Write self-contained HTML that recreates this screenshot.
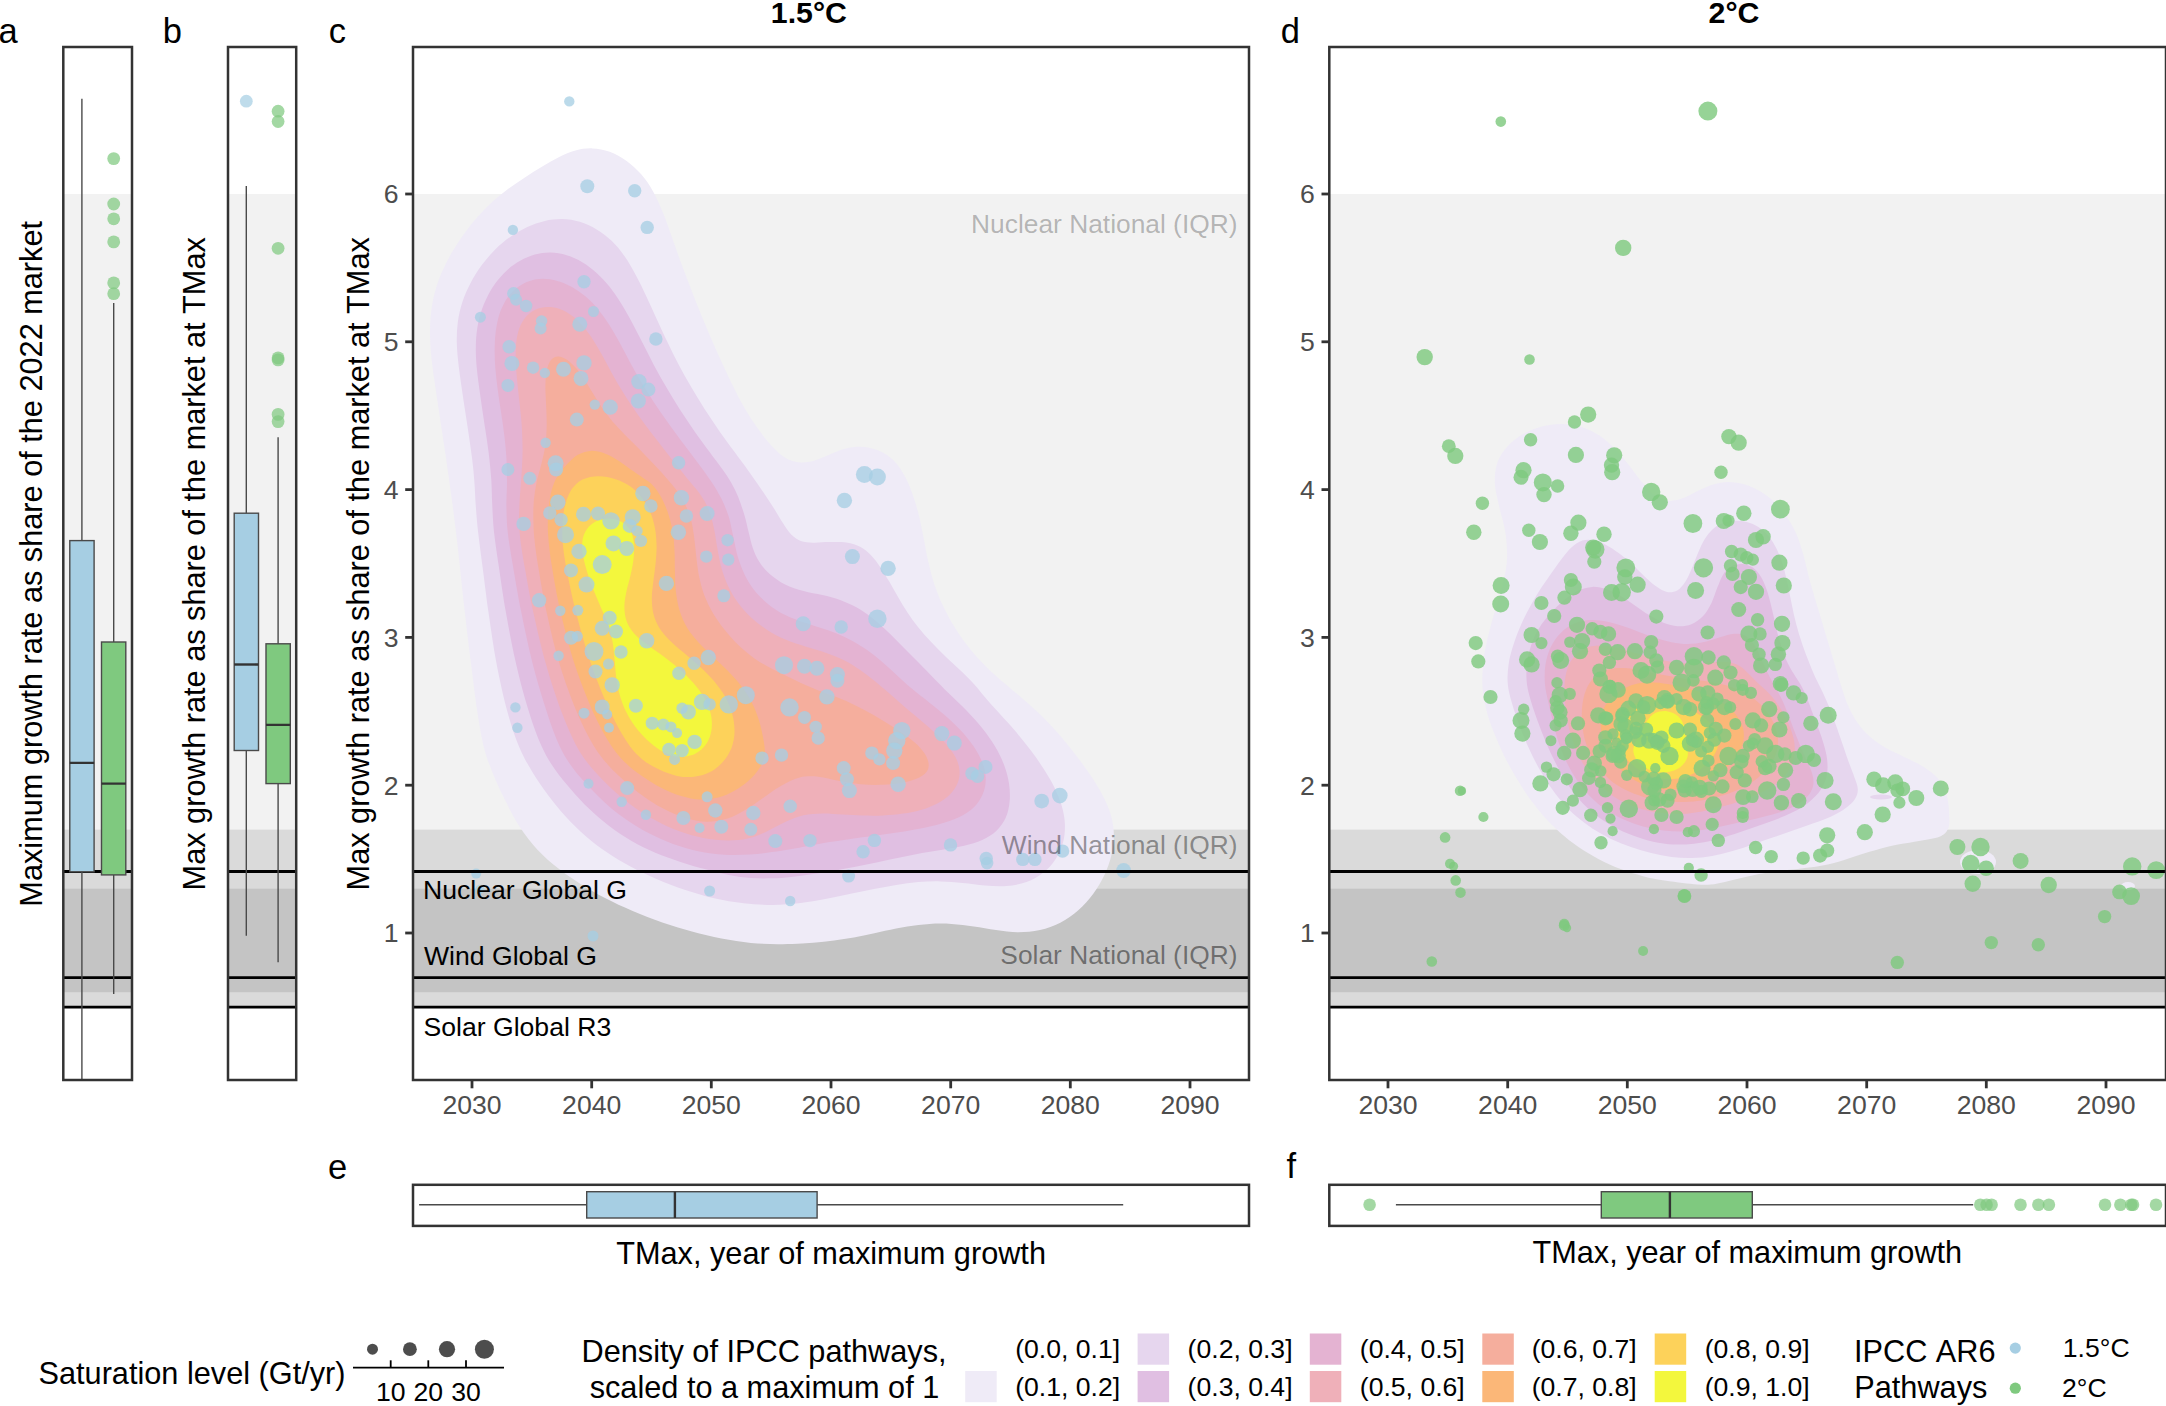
<!DOCTYPE html><html><head><meta charset="utf-8"><title>Figure</title><style>html,body{margin:0;padding:0;background:#fff}svg{display:block}text{font-family:"Liberation Sans",Arial,Helvetica,sans-serif;font-kerning:none}</style></head><body>
<svg width="2166" height="1406" viewBox="0 0 2166 1406">
<rect width="2166" height="1406" fill="#fff"/>
<defs>
<clipPath id="cpa"><rect x="63.3" y="47.0" width="68.7" height="1033.0"/></clipPath>
<clipPath id="cpb"><rect x="228.0" y="47.0" width="68.2" height="1033.0"/></clipPath>
<clipPath id="cpc"><rect x="413.0" y="47.0" width="836.0" height="1033.0"/></clipPath>
<clipPath id="cpd"><rect x="1329.3" y="47.0" width="836.7" height="1033.0"/></clipPath>
</defs>
<rect x="63.3" y="194.0" width="68.7" height="635.5" fill="#f2f2f2"/>
<rect x="63.3" y="829.5" width="68.7" height="177.4" fill="#dadada"/>
<rect x="63.3" y="888.7" width="68.7" height="103.5" fill="#c4c4c4"/>
<line x1="63.3" x2="132.0" y1="871.5" y2="871.5" stroke="#000" stroke-width="2.8"/>
<line x1="63.3" x2="132.0" y1="977.6" y2="977.6" stroke="#000" stroke-width="2.8"/>
<line x1="63.3" x2="132.0" y1="1007.2" y2="1007.2" stroke="#000" stroke-width="2.8"/>
<rect x="228.0" y="194.0" width="68.2" height="635.5" fill="#f2f2f2"/>
<rect x="228.0" y="829.5" width="68.2" height="177.4" fill="#dadada"/>
<rect x="228.0" y="888.7" width="68.2" height="103.5" fill="#c4c4c4"/>
<line x1="228.0" x2="296.2" y1="871.5" y2="871.5" stroke="#000" stroke-width="2.8"/>
<line x1="228.0" x2="296.2" y1="977.6" y2="977.6" stroke="#000" stroke-width="2.8"/>
<line x1="228.0" x2="296.2" y1="1007.2" y2="1007.2" stroke="#000" stroke-width="2.8"/>
<g clip-path="url(#cpa)">
<line x1="81.9" x2="81.9" y1="98.8" y2="540.6" stroke="#4a4a4a" stroke-width="1.4"/>
<line x1="81.9" x2="81.9" y1="871.8" y2="1200.0" stroke="#4a4a4a" stroke-width="1.4"/>
<rect x="69.8" y="540.6" width="24.3" height="331.2" fill="#a6cee3" stroke="#4a4a4a" stroke-width="1.4"/>
<line x1="69.8" x2="94.1" y1="762.9" y2="762.9" stroke="#333" stroke-width="2.4"/>
<line x1="113.7" x2="113.7" y1="302.9" y2="642.0" stroke="#4a4a4a" stroke-width="1.4"/>
<line x1="113.7" x2="113.7" y1="874.9" y2="994.0" stroke="#4a4a4a" stroke-width="1.4"/>
<rect x="101.5" y="642.0" width="24.3" height="232.9" fill="#7fc97f" stroke="#4a4a4a" stroke-width="1.4"/>
<line x1="101.5" x2="125.9" y1="783.6" y2="783.6" stroke="#333" stroke-width="2.4"/>
<circle cx="113.7" cy="158.6" r="6.4" fill="#7fc97f" fill-opacity="0.72"/>
<circle cx="113.7" cy="204.0" r="6.4" fill="#7fc97f" fill-opacity="0.72"/>
<circle cx="113.7" cy="218.8" r="6.4" fill="#7fc97f" fill-opacity="0.72"/>
<circle cx="113.7" cy="241.9" r="6.4" fill="#7fc97f" fill-opacity="0.72"/>
<circle cx="113.7" cy="282.9" r="6.4" fill="#7fc97f" fill-opacity="0.72"/>
<circle cx="113.7" cy="293.7" r="6.4" fill="#7fc97f" fill-opacity="0.72"/>
</g>
<g clip-path="url(#cpb)">
<line x1="246.3" x2="246.3" y1="186.1" y2="513.2" stroke="#4a4a4a" stroke-width="1.4"/>
<line x1="246.3" x2="246.3" y1="750.5" y2="935.8" stroke="#4a4a4a" stroke-width="1.4"/>
<rect x="234.2" y="513.2" width="24.3" height="237.3" fill="#a6cee3" stroke="#4a4a4a" stroke-width="1.4"/>
<line x1="234.2" x2="258.4" y1="664.5" y2="664.5" stroke="#333" stroke-width="2.4"/>
<line x1="278.1" x2="278.1" y1="437.2" y2="643.8" stroke="#4a4a4a" stroke-width="1.4"/>
<line x1="278.1" x2="278.1" y1="783.6" y2="962.2" stroke="#4a4a4a" stroke-width="1.4"/>
<rect x="266.0" y="643.8" width="24.3" height="139.8" fill="#7fc97f" stroke="#4a4a4a" stroke-width="1.4"/>
<line x1="266.0" x2="290.2" y1="724.9" y2="724.9" stroke="#333" stroke-width="2.4"/>
<circle cx="246.3" cy="101.2" r="6.4" fill="#a6cee3" fill-opacity="0.72"/>
<circle cx="278.1" cy="111.2" r="6.4" fill="#7fc97f" fill-opacity="0.72"/>
<circle cx="278.1" cy="121.5" r="6.4" fill="#7fc97f" fill-opacity="0.72"/>
<circle cx="278.1" cy="248.3" r="6.4" fill="#7fc97f" fill-opacity="0.72"/>
<circle cx="278.1" cy="357.9" r="6.4" fill="#7fc97f" fill-opacity="0.72"/>
<circle cx="278.1" cy="359.9" r="6.4" fill="#7fc97f" fill-opacity="0.72"/>
<circle cx="278.1" cy="414.4" r="6.4" fill="#7fc97f" fill-opacity="0.72"/>
<circle cx="278.1" cy="421.6" r="6.4" fill="#7fc97f" fill-opacity="0.72"/>
</g>
<rect x="63.3" y="47.0" width="68.7" height="1033.0" fill="none" stroke="#333" stroke-width="2.5"/>
<rect x="228.0" y="47.0" width="68.2" height="1033.0" fill="none" stroke="#333" stroke-width="2.5"/>
<rect x="413.0" y="194.0" width="836.0" height="635.5" fill="#f2f2f2"/>
<rect x="413.0" y="829.5" width="836.0" height="177.4" fill="#dadada"/>
<rect x="413.0" y="888.7" width="836.0" height="103.5" fill="#c4c4c4"/>
<g clip-path="url(#cpc)">
<path d="M592.3,148.4C598.0,148.6 604.0,149.7 609.7,151.8C615.4,153.8 621.3,157.2 626.6,160.9C631.8,164.7 636.8,169.2 641.2,174.3C645.7,179.4 649.5,185.0 653.1,191.5C656.7,197.9 660.0,205.5 663.1,213.0C666.2,220.5 669.0,228.9 671.8,236.7C674.6,244.5 677.2,252.2 679.9,259.8C682.7,267.4 685.5,274.7 688.4,282.3C691.3,289.9 694.3,297.5 697.4,305.4C700.6,313.3 703.9,321.5 707.4,329.7C710.9,337.9 714.6,346.4 718.3,354.7C722.1,363.0 725.9,371.6 729.9,379.7C733.8,387.8 737.8,395.9 742.0,403.4C746.2,410.9 750.6,418.0 755.1,424.6C759.6,431.2 764.4,437.6 768.9,442.7C773.4,447.8 777.6,452.3 782.0,455.5C786.4,458.6 790.5,460.7 795.1,461.7C799.7,462.8 804.6,462.6 809.5,461.7C814.4,460.9 819.4,458.6 824.4,456.7C829.4,454.9 834.4,452.1 839.4,450.5C844.4,448.9 849.4,447.4 854.4,447.0C859.4,446.5 864.5,446.7 869.4,447.8C874.3,448.8 879.2,450.6 883.7,453.1C888.2,455.7 892.4,458.9 896.2,463.2C900.0,467.6 903.4,473.2 906.5,479.4C909.6,485.5 912.3,493.2 914.5,499.9C916.8,506.7 918.4,513.3 920.0,519.9C921.5,526.5 922.6,532.7 924.0,539.7C925.3,546.7 926.5,554.4 928.3,561.8C930.0,569.2 931.9,576.9 934.4,584.4C937.0,591.9 939.8,599.2 943.4,606.6C946.9,614.0 951.0,621.5 955.6,628.8C960.2,636.1 965.6,643.6 971.1,650.2C976.6,656.9 982.7,663.2 988.4,668.9C994.1,674.5 999.8,679.1 1005.4,684.0C1011.0,689.0 1016.3,693.2 1022.1,698.3C1027.9,703.4 1034.1,708.7 1040.2,714.5C1046.2,720.4 1052.6,727.1 1058.4,733.6C1064.2,740.2 1069.8,747.2 1075.0,754.0C1080.3,760.8 1085.3,767.5 1089.8,774.3C1094.4,781.1 1098.8,787.9 1102.3,794.7C1105.9,801.5 1109.0,808.2 1110.9,815.0C1112.8,821.8 1113.8,828.5 1113.9,835.3C1114.0,842.1 1113.0,849.0 1111.3,855.7C1109.7,862.4 1107.2,869.2 1104.2,875.5C1101.1,881.9 1097.4,888.3 1093.1,894.0C1088.8,899.8 1083.8,905.5 1078.3,910.2C1072.9,915.0 1066.7,919.4 1060.3,922.7C1053.9,926.0 1047.0,928.5 1040.0,930.1C1032.9,931.7 1025.5,932.2 1018.2,932.2C1010.9,932.2 1003.4,931.1 996.0,930.1C988.6,929.2 981.2,927.5 973.8,926.5C966.4,925.4 959.0,924.3 951.6,923.9C944.2,923.5 936.9,923.5 929.5,923.9C922.1,924.3 914.7,925.3 907.3,926.4C899.9,927.6 892.3,929.3 885.1,930.8C877.9,932.3 870.7,934.1 863.8,935.5C857.0,936.9 850.7,938.1 844.0,939.1C837.4,940.2 830.8,941.0 823.8,941.8C816.8,942.5 809.6,943.2 802.0,943.6C794.3,944.0 786.6,944.4 778.0,944.2C769.5,944.1 760.2,943.9 750.8,942.9C741.4,942.0 731.3,940.5 721.5,938.6C711.7,936.8 701.8,934.3 691.9,931.6C682.0,928.9 672.2,925.8 662.3,922.4C652.4,918.9 642.3,915.0 632.7,910.9C623.1,906.8 613.6,902.4 605.0,897.9C596.4,893.5 588.7,889.1 581.0,884.2C573.3,879.4 566.0,874.4 558.8,868.7C551.6,863.0 544.2,856.9 537.7,849.9C531.2,842.8 525.0,834.9 519.5,826.5C514.1,818.2 509.2,808.4 504.8,799.5C500.3,790.7 496.2,782.1 492.8,773.3C489.3,764.5 486.4,757.2 483.8,746.9C481.2,736.5 479.4,724.9 477.2,711.0C475.1,697.2 473.1,680.1 471.0,663.6C468.9,647.0 466.6,628.1 464.8,611.8C462.9,595.5 461.2,579.0 459.8,565.7C458.3,552.4 457.2,541.9 456.0,532.0C454.8,522.0 453.8,514.3 452.7,506.0C451.6,497.6 450.5,489.8 449.4,481.9C448.3,474.0 447.3,466.5 446.1,458.6C444.9,450.8 443.7,442.8 442.5,434.6C441.2,426.4 440.0,417.9 438.7,409.6C437.5,401.3 436.1,392.8 435.0,384.6C433.8,376.4 432.5,368.2 431.7,360.3C430.9,352.4 430.2,344.8 430.1,337.2C429.9,329.6 430.0,322.1 430.8,314.7C431.6,307.3 432.8,300.0 434.7,292.9C436.5,285.8 439.0,279.0 441.8,272.3C444.7,265.6 448.1,259.0 451.8,252.6C455.5,246.2 459.7,239.9 464.0,233.9C468.3,227.9 473.0,222.1 477.7,216.8C482.5,211.4 487.3,206.4 492.4,201.8C497.4,197.2 502.6,193.1 508.0,189.0C513.4,184.9 519.2,181.2 524.9,177.4C530.6,173.7 536.6,169.9 542.3,166.5C548.0,163.1 553.7,159.7 559.2,157.0C564.7,154.4 569.9,152.0 575.4,150.6C580.9,149.1 586.6,148.2 592.3,148.4Z" fill="#efebf7"/>
<path d="M562.3,219.0C568.1,219.2 574.1,220.1 579.8,221.8C585.5,223.5 591.3,226.2 596.6,229.4C602.0,232.5 607.0,236.3 611.6,240.8C616.2,245.2 620.4,250.4 624.4,256.1C628.4,261.7 632.0,268.2 635.6,274.8C639.2,281.4 642.5,288.2 645.9,295.4C649.3,302.6 652.7,310.2 656.2,317.9C659.8,325.5 663.4,333.8 667.2,341.6C670.9,349.4 674.7,357.1 678.7,364.7C682.7,372.3 686.8,379.6 691.2,387.1C695.6,394.6 700.2,402.2 704.9,409.6C709.7,417.0 714.7,424.4 719.6,431.5C724.5,438.6 729.9,445.7 734.6,452.1C739.2,458.5 743.9,464.5 747.6,469.8C751.4,475.0 754.3,479.1 757.3,483.5C760.3,487.9 762.9,491.6 765.8,495.9C768.6,500.2 771.6,504.7 774.5,509.2C777.3,513.8 780.1,518.9 782.9,523.1C785.7,527.3 788.3,531.5 791.2,534.5C794.2,537.5 797.1,539.5 800.8,540.9C804.4,542.2 808.4,542.5 813.2,542.7C817.9,542.9 823.8,542.1 829.3,542.1C834.9,542.1 841.2,541.8 846.5,542.6C851.7,543.5 856.4,544.9 860.5,547.0C864.7,549.2 867.9,552.1 871.2,555.5C874.6,558.9 877.5,563.0 880.5,567.4C883.5,571.7 886.4,576.8 889.4,581.8C892.3,586.8 895.2,592.2 898.2,597.3C901.2,602.4 904.1,607.5 907.5,612.5C910.8,617.5 914.3,622.4 918.2,627.3C922.2,632.2 926.5,637.2 931.2,642.1C935.8,647.0 940.9,652.0 946.0,656.9C951.1,661.8 957.1,667.0 961.9,671.7C966.7,676.4 971.0,680.6 974.8,684.9C978.7,689.1 981.0,692.6 985.0,697.3C989.1,702.1 994.1,707.6 999.3,713.3C1004.4,719.0 1010.7,725.6 1015.9,731.8C1021.2,738.0 1026.1,744.1 1030.7,750.3C1035.3,756.5 1039.7,762.6 1043.6,768.8C1047.6,775.0 1051.3,781.1 1054.3,787.3C1057.3,793.5 1059.9,799.6 1061.7,805.8C1063.4,811.9 1064.7,818.1 1064.9,824.2C1065.1,830.3 1064.6,836.5 1063.1,842.3C1061.5,848.0 1059.0,853.8 1055.7,858.9C1052.4,864.0 1048.1,869.0 1043.2,872.8C1038.3,876.7 1032.6,879.8 1026.5,882.0C1020.5,884.2 1013.6,885.4 1006.6,886.0C999.7,886.5 992.2,886.0 984.9,885.5C977.6,885.0 970.1,883.7 962.7,883.0C955.3,882.3 947.9,881.5 940.5,881.4C933.1,881.2 925.8,881.5 918.4,882.1C911.0,882.7 903.6,883.7 896.2,884.9C888.8,886.0 881.4,887.5 874.0,889.0C866.6,890.5 859.5,892.0 851.8,893.6C844.1,895.2 836.3,896.9 827.8,898.5C819.2,900.0 809.9,901.9 800.7,903.0C791.5,904.1 782.1,904.9 772.6,905.0C763.1,905.0 753.4,904.4 743.7,903.3C734.0,902.2 724.0,900.6 714.1,898.3C704.2,896.0 694.2,893.0 684.5,889.8C674.8,886.5 665.0,882.6 656.0,878.7C647.0,874.8 638.6,870.8 630.5,866.5C622.5,862.2 615.1,857.9 607.6,852.8C600.1,847.8 592.8,842.3 585.8,836.2C578.7,830.1 571.8,823.2 565.4,816.2C559.1,809.3 553.1,801.7 547.6,794.4C542.2,787.1 537.2,780.1 532.5,772.2C527.7,764.3 523.5,757.1 519.2,746.9C515.0,736.7 511.0,724.9 507.2,711.0C503.4,697.2 499.7,680.1 496.5,663.6C493.4,647.0 490.8,628.1 488.4,611.8C486.1,595.5 484.2,579.0 482.4,565.7C480.7,552.4 479.2,541.9 478.1,532.0C477.0,522.0 476.4,514.3 475.8,506.0C475.2,497.6 475.0,489.8 474.4,481.9C473.8,474.0 473.1,466.5 472.1,458.6C471.1,450.8 469.9,442.8 468.7,434.6C467.5,426.4 466.2,417.8 464.9,409.6C463.7,401.4 462.4,393.1 461.3,385.3C460.2,377.5 459.1,370.0 458.3,362.8C457.6,355.6 456.9,349.0 456.8,342.2C456.7,335.4 456.9,328.9 457.8,322.2C458.7,315.6 460.2,308.8 462.3,302.3C464.4,295.7 467.3,289.1 470.6,282.9C473.8,276.7 477.7,270.7 481.8,265.1C485.9,259.6 490.4,254.3 495.2,249.5C500.0,244.8 505.1,240.5 510.5,236.7C515.8,233.0 521.6,229.7 527.3,227.0C533.0,224.4 539.0,222.3 544.8,220.9C550.6,219.6 556.5,218.9 562.3,219.0Z" fill="#e6d6ee"/>
<path d="M550.4,252.5C555.7,252.6 561.4,253.6 566.7,255.2C572.0,256.8 577.3,259.2 582.3,262.2C587.3,265.2 592.1,268.9 596.6,272.9C601.2,277.0 605.4,281.6 609.4,286.6C613.5,291.7 617.2,297.3 621.0,303.2C624.7,309.1 628.3,315.6 631.9,322.2C635.5,328.8 638.9,335.8 642.5,342.8C646.1,349.9 649.8,357.3 653.7,364.7C657.7,372.1 661.8,379.6 666.2,387.1C670.6,394.6 675.2,402.2 679.9,409.6C684.7,417.0 689.7,424.4 694.6,431.5C699.5,438.6 705.0,445.8 709.6,452.1C714.2,458.4 718.8,464.2 722.4,469.3C726.0,474.3 728.5,477.9 731.1,482.5C733.7,487.1 735.8,491.4 738.0,496.6C740.1,501.9 742.3,508.2 744.1,514.1C745.9,520.0 747.2,526.5 748.6,532.1C750.1,537.7 751.0,542.9 752.8,547.9C754.5,552.8 756.3,557.1 759.1,561.5C761.9,565.9 765.3,570.2 769.7,574.0C774.0,577.8 779.4,581.6 785.1,584.4C790.7,587.2 797.4,589.3 803.6,591.0C809.8,592.8 816.3,593.6 822.4,595.1C828.5,596.6 834.5,597.9 840.2,599.9C845.8,602.0 851.2,604.4 856.4,607.3C861.6,610.2 866.5,613.7 871.2,617.3C876.0,620.9 880.3,625.0 884.9,629.1C889.5,633.3 893.9,637.9 898.6,642.5C903.3,647.1 908.3,652.2 913.0,656.9C917.7,661.6 922.4,666.4 926.6,670.7C930.9,675.0 934.4,678.8 938.5,682.9C942.5,687.1 946.4,690.9 951.1,695.5C955.8,700.1 961.3,705.1 966.5,710.6C971.6,716.0 977.4,722.1 982.1,728.1C986.9,734.1 991.4,740.4 995.1,746.6C998.8,752.8 1001.8,758.9 1004.1,765.1C1006.4,771.3 1008.1,777.5 1009.0,783.6C1009.9,789.7 1010.2,795.9 1009.6,801.6C1009.1,807.3 1007.9,812.9 1005.7,817.8C1003.5,822.6 1000.4,827.0 996.5,830.7C992.6,834.4 987.6,837.4 982.2,840.0C976.8,842.5 970.5,844.1 964.1,845.7C957.7,847.3 950.8,848.2 943.8,849.4C936.8,850.7 929.4,851.8 922.1,853.1C914.8,854.5 907.3,856.0 899.9,857.5C892.5,859.0 885.1,860.7 877.7,862.2C870.3,863.7 862.9,865.3 855.5,866.8C848.1,868.2 840.7,869.6 833.3,870.9C825.9,872.1 818.4,873.3 811.4,874.3C804.3,875.3 797.7,876.2 791.1,876.9C784.5,877.6 778.6,878.1 771.9,878.3C765.3,878.5 758.3,878.5 751.1,878.0C743.9,877.4 736.5,876.4 728.9,874.9C721.3,873.5 713.7,871.4 705.6,869.2C697.5,867.1 688.8,864.7 680.5,861.9C672.1,859.2 663.4,856.3 655.3,852.8C647.2,849.3 639.3,845.4 631.6,841.0C624.0,836.5 616.6,831.5 609.5,826.2C602.4,820.8 595.5,814.9 589.1,808.8C582.7,802.7 576.7,796.1 571.0,789.5C565.3,783.0 560.0,776.8 555.0,769.6C550.1,762.3 545.8,755.9 541.5,746.1C537.1,736.4 532.9,724.8 528.7,711.0C524.4,697.3 519.8,680.1 516.0,663.6C512.2,647.0 508.7,628.1 505.8,611.8C502.9,595.5 500.7,579.0 498.7,565.7C496.7,552.4 495.1,541.9 494.0,532.0C493.0,522.0 492.7,514.6 492.3,506.0C491.8,497.3 491.9,488.8 491.3,480.0C490.7,471.2 489.7,461.9 488.7,453.1C487.6,444.3 486.2,435.5 484.9,427.1C483.7,418.7 482.4,410.7 481.3,402.8C480.2,394.8 479.0,387.2 478.1,379.7C477.2,372.2 476.3,364.9 476.0,357.8C475.7,350.7 475.7,343.9 476.2,337.2C476.8,330.5 477.8,324.1 479.4,317.8C481.0,311.6 483.2,305.5 485.9,299.8C488.5,294.1 491.7,288.4 495.2,283.6C498.7,278.7 502.6,274.2 506.8,270.4C510.9,266.6 515.5,263.4 520.2,260.8C524.9,258.1 529.8,255.9 534.8,254.5C539.9,253.2 545.1,252.4 550.4,252.5Z" fill="#e0bfe2"/>
<path d="M542.9,278.8C547.5,278.8 552.5,279.5 557.3,280.9C562.1,282.2 567.2,284.3 572.0,286.9C576.7,289.6 581.3,292.9 585.7,296.6C590.1,300.4 594.2,304.7 598.2,309.4C602.1,314.2 605.8,319.5 609.4,325.0C613.0,330.6 616.3,336.6 619.7,342.8C623.1,349.0 626.4,355.6 630.0,362.2C633.6,368.7 637.3,375.5 641.2,382.1C645.2,388.8 649.3,395.4 653.7,402.1C658.1,408.8 662.7,415.4 667.5,422.1C672.2,428.8 677.2,435.5 682.1,442.1C687.0,448.6 692.1,455.1 696.8,461.4C701.5,467.7 706.1,473.8 710.2,479.9C714.3,486.0 718.1,492.0 721.1,498.1C724.2,504.2 726.6,510.2 728.7,516.6C730.7,523.0 731.7,529.8 733.3,536.8C734.9,543.7 736.0,551.5 738.3,558.6C740.6,565.6 743.4,572.8 747.0,579.2C750.6,585.5 755.1,591.5 759.9,596.6C764.8,601.7 770.4,606.1 776.2,609.9C782.0,613.7 788.4,616.5 794.7,619.1C801.0,621.8 807.6,623.6 813.9,625.8C820.2,628.0 826.6,629.7 832.8,632.1C838.9,634.4 844.8,636.9 850.5,639.9C856.2,642.8 861.6,646.2 866.8,649.8C872.1,653.5 877.0,657.5 882.0,661.7C887.0,665.9 891.6,670.4 896.6,674.9C901.7,679.4 906.6,684.2 912.1,688.8C917.5,693.4 923.6,697.9 929.5,702.7C935.4,707.4 941.8,712.3 947.5,717.4C953.2,722.6 958.9,728.2 963.6,733.6C968.4,739.1 972.8,744.9 976.1,750.3C979.4,755.7 982.0,761.0 983.6,766.0C985.2,771.1 985.9,775.7 985.7,780.5C985.6,785.2 984.6,790.0 982.6,794.5C980.7,799.0 977.9,803.4 974.0,807.2C970.0,811.0 965.1,814.3 959.0,817.2C952.9,820.1 945.3,822.5 937.3,824.7C929.3,826.9 920.0,828.6 911.0,830.3C902.0,831.9 892.5,833.1 883.2,834.4C874.0,835.8 864.4,836.9 855.5,838.2C846.6,839.5 837.6,840.8 829.7,842.0C821.9,843.3 815.0,844.7 808.4,845.9C801.9,847.0 796.4,848.2 790.3,849.2C784.2,850.3 778.6,851.3 771.9,852.1C765.2,853.0 757.9,854.1 750.0,854.5C742.1,854.9 733.1,855.2 724.5,854.7C715.8,854.1 706.8,853.0 698.2,851.2C689.6,849.4 681.2,846.9 673.0,844.0C664.9,841.0 657.0,837.5 649.4,833.6C641.7,829.6 634.3,825.1 627.2,820.2C620.1,815.4 613.3,810.0 606.9,804.4C600.4,798.7 594.4,792.7 588.8,786.6C583.1,780.6 577.7,775.0 572.8,768.1C568.0,761.3 563.8,755.3 559.4,745.8C555.0,736.3 550.9,724.8 546.5,711.0C542.0,697.3 536.9,680.1 532.6,663.6C528.4,647.0 524.5,628.1 521.2,611.8C517.9,595.5 515.2,579.0 512.9,565.7C510.7,552.4 508.8,541.9 507.7,532.0C506.6,522.0 506.6,514.4 506.4,506.0C506.3,497.5 507.0,489.3 507.0,481.2C506.9,473.2 506.9,465.2 506.4,457.4C505.9,449.6 505.1,442.1 504.2,434.6C503.3,427.0 502.1,419.6 501.0,412.1C499.9,404.6 498.6,397.0 497.7,389.6C496.8,382.2 495.8,374.9 495.3,367.8C494.8,360.7 494.5,353.9 494.7,347.2C494.8,340.5 495.3,333.9 496.3,327.8C497.3,321.7 498.7,315.8 500.7,310.6C502.7,305.5 505.1,300.9 508.0,296.9C510.9,293.0 514.4,289.6 518.0,286.9C521.6,284.3 525.7,282.2 529.8,280.9C534.0,279.5 538.3,278.8 542.9,278.8Z" fill="#e4b3d2"/>
<path d="M547.3,307.1C551.4,307.0 555.7,307.6 559.8,309.1C563.9,310.5 568.1,312.9 572.0,315.8C575.9,318.7 579.7,322.6 583.2,326.6C586.7,330.6 590.0,335.2 593.2,340.0C596.3,344.8 599.2,350.0 602.2,355.3C605.2,360.7 608.1,366.5 611.3,372.2C614.5,377.9 617.8,383.8 621.3,389.6C624.8,395.4 628.6,401.3 632.5,407.1C636.5,412.9 640.7,418.8 645.0,424.6C649.3,430.4 653.8,436.2 658.4,442.1C663.0,448.0 667.7,454.2 672.4,460.1C677.2,466.1 682.3,472.3 686.8,477.9C691.3,483.4 696.0,488.2 699.6,493.5C703.3,498.8 706.3,503.8 708.7,509.6C711.1,515.4 712.5,522.0 714.0,528.4C715.4,534.9 716.2,541.8 717.4,548.4C718.6,555.0 719.7,561.5 721.4,567.8C723.2,574.0 725.3,580.1 728.0,585.9C730.8,591.7 734.1,597.4 738.0,602.7C741.9,608.0 746.5,613.1 751.4,617.7C756.4,622.3 761.9,626.5 767.6,630.2C773.4,633.9 779.6,637.1 786.0,639.8C792.4,642.6 799.4,644.6 806.1,646.8C812.8,649.0 819.9,650.6 826.3,652.9C832.7,655.2 838.9,657.6 844.6,660.5C850.4,663.5 855.8,667.0 860.9,670.5C866.0,674.0 870.8,677.9 875.3,681.5C879.8,685.2 883.7,688.6 888.0,692.2C892.3,695.9 896.4,699.6 901.1,703.7C905.9,707.8 911.3,712.3 916.5,716.8C921.8,721.4 927.7,726.2 932.7,730.8C937.7,735.4 942.7,740.0 946.5,744.5C950.4,749.0 953.6,753.3 955.8,757.7C958.0,762.0 959.2,766.4 959.5,770.6C959.8,774.9 959.2,779.2 957.6,783.1C956.1,787.1 953.5,790.9 950.2,794.2C946.9,797.6 942.5,800.6 937.8,803.2C933.0,805.8 927.4,808.0 921.6,809.7C915.9,811.4 909.5,812.7 903.1,813.6C896.7,814.6 889.9,815.1 883.2,815.5C876.5,815.8 869.7,815.7 862.9,815.6C856.1,815.4 849.3,814.8 842.5,814.5C835.8,814.1 829.0,813.3 822.5,813.4C816.0,813.5 809.6,813.9 803.5,815.2C797.5,816.5 791.8,819.0 786.2,821.4C780.7,823.8 775.6,827.0 770.5,829.5C765.4,832.0 761.0,834.5 755.7,836.2C750.3,838.0 744.9,839.4 738.2,840.0C731.6,840.6 723.5,840.6 715.6,839.7C707.7,838.8 698.9,837.1 690.8,834.9C682.7,832.6 674.8,829.6 667.1,826.2C659.5,822.8 652.1,818.7 645.0,814.3C637.9,810.0 631.0,805.0 624.6,799.9C618.2,794.8 612.2,789.2 606.5,783.7C600.8,778.1 595.6,773.0 590.5,766.6C585.5,760.3 581.1,754.7 576.2,745.4C571.3,736.1 566.3,724.7 561.2,711.0C556.1,697.4 550.4,680.1 545.8,663.6C541.1,647.0 536.7,627.7 533.2,611.8C529.7,595.9 527.0,580.0 524.9,568.2C522.8,556.3 521.5,548.5 520.5,540.7C519.5,532.8 519.3,527.5 519.1,520.9C519.0,514.3 519.3,508.1 519.6,501.0C520.0,493.8 520.8,486.4 521.3,478.1C521.8,469.9 522.5,460.0 522.6,451.2C522.6,442.4 522.2,433.4 521.7,425.2C521.2,417.0 520.2,409.6 519.4,402.1C518.6,394.6 517.8,387.3 517.1,380.3C516.5,373.3 515.9,366.6 515.8,360.3C515.6,354.1 515.6,348.2 516.2,342.8C516.8,337.5 517.8,332.5 519.4,328.1C521.0,323.8 523.1,320.0 525.8,316.9C528.5,313.9 531.9,311.4 535.5,309.8C539.0,308.1 543.2,307.2 547.3,307.1Z" fill="#efb0b9"/>
<path d="M557.9,356.5C560.6,356.4 564.0,357.7 567.0,359.7C570.0,361.6 573.1,364.8 576.0,368.1C578.9,371.5 581.7,375.6 584.5,379.7C587.2,383.8 589.7,388.2 592.6,392.8C595.5,397.3 598.3,402.3 601.6,407.1C604.9,411.9 608.6,416.8 612.5,421.5C616.5,426.2 620.8,430.5 625.3,435.2C629.9,439.9 634.9,444.7 639.7,449.6C644.5,454.5 649.3,459.5 654.1,464.5C658.8,469.6 663.6,474.5 668.1,479.9C672.6,485.3 677.6,490.9 681.2,496.9C684.9,502.9 687.8,509.5 689.9,516.0C692.1,522.5 693.0,529.3 694.0,535.9C695.0,542.6 695.4,549.2 696.2,555.9C697.0,562.6 697.7,569.3 699.0,575.9C700.4,582.4 702.0,589.0 704.3,595.2C706.7,601.4 709.6,607.4 713.0,613.2C716.5,619.0 720.5,624.6 724.8,630.0C729.1,635.4 734.0,640.8 738.9,645.6C743.8,650.3 749.3,654.8 754.5,658.5C759.7,662.2 764.9,665.0 770.0,667.8C775.1,670.6 779.9,672.7 785.0,675.3C790.2,677.8 795.3,680.5 800.9,683.0C806.5,685.6 812.5,688.1 818.5,690.4C824.5,692.8 830.8,694.8 837.0,697.3C843.2,699.8 849.3,702.4 855.5,705.4C861.7,708.4 867.9,711.9 874.0,715.3C880.1,718.8 886.3,722.5 892.0,726.2C897.7,729.9 903.4,733.6 908.2,737.3C913.0,741.0 917.5,744.7 920.7,748.4C923.9,752.1 926.5,755.9 927.6,759.4C928.8,762.8 929.2,766.4 927.9,769.4C926.6,772.4 923.9,775.1 919.8,777.2C915.7,779.4 909.5,781.1 903.3,782.4C897.2,783.6 889.9,784.5 882.8,784.8C875.6,785.1 867.9,784.9 860.5,784.3C853.2,783.6 845.4,782.1 838.4,780.8C831.4,779.5 825.0,777.3 818.5,776.7C812.0,776.2 805.9,776.0 799.6,777.5C793.3,779.0 786.9,782.6 780.8,786.0C774.6,789.4 768.8,794.1 763.0,798.0C757.2,801.9 751.9,806.1 746.0,809.5C740.1,812.9 734.2,816.5 727.6,818.5C721.1,820.5 713.9,821.8 706.7,821.7C699.5,821.6 691.8,819.9 684.5,817.7C677.2,815.5 669.7,812.0 662.7,808.3C655.6,804.6 648.8,800.1 642.4,795.5C635.9,790.9 629.9,785.8 624.2,780.7C618.6,775.7 613.5,771.1 608.3,765.2C603.2,759.2 598.6,754.0 593.2,745.0C587.9,736.0 582.0,724.6 576.4,711.0C570.7,697.5 564.4,680.1 559.4,663.6C554.4,647.0 550.0,627.7 546.5,611.8C543.0,595.9 540.4,580.0 538.5,568.2C536.5,556.3 535.4,548.5 534.6,540.7C533.7,532.8 533.5,527.5 533.4,520.9C533.2,514.3 533.3,507.5 533.8,501.0C534.4,494.5 535.3,488.1 536.6,481.9C537.9,475.7 540.0,469.9 541.5,463.6C543.0,457.4 544.6,451.1 545.5,444.6C546.3,438.1 546.6,431.3 546.7,424.6C546.8,417.9 546.3,411.1 546.1,404.6C545.9,398.1 545.3,391.5 545.4,385.9C545.6,380.2 545.8,374.9 546.7,370.6C547.6,366.3 548.9,362.6 550.8,360.3C552.6,358.0 555.2,356.7 557.9,356.5Z" fill="#f5ae9d"/>
<path d="M590.4,450.9C594.9,450.6 599.8,451.7 604.7,453.5C609.6,455.3 615.0,458.5 619.7,461.4C624.4,464.4 629.2,468.3 633.1,471.1C637.0,473.8 640.1,475.9 643.1,478.0C646.1,480.1 648.5,481.0 651.2,483.8C654.0,486.5 657.0,490.1 659.7,494.8C662.4,499.4 665.3,505.6 667.5,511.6C669.6,517.6 671.4,524.4 672.6,530.9C673.8,537.5 674.2,544.2 674.5,550.9C674.9,557.6 674.6,564.2 674.9,570.9C675.1,577.5 675.0,584.3 675.8,590.8C676.6,597.4 677.6,604.0 679.5,610.2C681.3,616.3 683.9,622.2 687.1,627.7C690.4,633.1 694.6,638.1 699.0,643.0C703.4,647.9 708.5,652.3 713.3,657.0C718.2,661.7 723.3,666.1 728.0,671.0C732.7,675.9 737.4,681.0 741.4,686.3C745.4,691.7 749.2,697.5 752.1,703.2C755.1,708.9 757.3,715.1 759.1,720.7C760.9,726.3 761.9,732.0 762.9,736.7C763.8,741.5 764.6,745.4 764.7,749.1C764.9,752.8 764.8,755.6 763.8,759.0C762.8,762.4 761.2,765.9 758.6,769.5C756.1,773.1 752.5,777.2 748.5,780.7C744.5,784.2 739.5,787.9 734.4,790.7C729.4,793.5 723.8,796.0 718.2,797.5C712.5,799.0 706.6,799.8 700.4,799.5C694.3,799.3 687.7,798.0 681.2,796.0C674.7,794.1 667.7,791.0 661.2,787.7C654.7,784.4 648.2,780.3 642.3,776.2C636.5,772.2 631.3,768.6 626.0,763.3C620.8,758.0 616.2,753.4 610.6,744.7C605.0,735.9 598.7,724.6 592.6,711.0C586.6,697.5 579.8,680.1 574.4,663.6C569.1,647.0 564.3,627.9 560.5,611.8C556.8,595.7 554.0,579.4 552.0,566.9C550.0,554.4 548.9,545.4 548.3,537.0C547.6,528.5 547.7,522.6 548.0,516.0C548.4,509.4 549.1,502.8 550.1,497.2C551.1,491.7 552.5,486.8 554.2,482.7C555.9,478.6 557.8,475.7 560.1,472.5C562.4,469.2 565.0,466.1 567.9,463.2C570.9,460.2 574.2,456.8 577.9,454.7C581.7,452.7 585.9,451.1 590.4,450.9Z" fill="#fbb778"/>
<path d="M598.5,476.2C604.1,476.2 610.3,477.5 615.5,479.2C620.7,480.8 625.4,483.1 629.7,486.1C634.0,489.1 637.9,492.7 641.2,496.9C644.6,501.2 647.7,506.4 650.0,511.6C652.3,516.9 653.9,522.7 655.0,528.4C656.1,534.1 656.4,540.1 656.6,545.9C656.7,551.7 656.1,557.6 655.6,563.4C655.1,569.2 654.0,575.1 653.4,580.9C652.8,586.7 651.8,592.6 651.8,598.3C651.9,604.0 652.2,609.9 653.8,615.2C655.3,620.5 657.8,625.5 660.9,630.2C664.0,634.8 668.2,638.9 672.5,643.0C676.7,647.1 681.5,650.8 686.2,654.8C690.9,658.9 695.9,662.9 700.6,667.3C705.2,671.7 709.9,676.2 714.0,681.0C718.0,685.9 721.9,691.0 724.9,696.3C727.9,701.7 730.4,707.6 732.0,713.2C733.7,718.8 734.4,724.8 734.5,729.9C734.7,734.9 733.9,739.6 732.8,743.8C731.8,747.9 730.2,751.2 728.1,754.7C726.1,758.1 723.6,761.4 720.4,764.4C717.2,767.4 713.3,770.5 709.0,772.6C704.6,774.6 699.5,776.3 694.1,776.8C688.8,777.4 682.9,777.1 677.1,775.9C671.4,774.7 665.3,772.4 659.8,769.8C654.2,767.2 649.1,764.7 643.8,760.4C638.6,756.1 634.0,752.1 628.4,743.9C622.7,735.7 616.3,724.4 610.0,711.0C603.8,697.7 596.6,680.1 590.9,663.6C585.2,647.0 579.9,627.5 575.9,611.8C571.8,596.1 568.8,580.7 566.6,569.4C564.5,558.2 563.6,551.7 562.9,544.4C562.2,537.2 562.2,532.2 562.5,525.9C562.8,519.6 563.3,512.5 564.7,506.6C566.1,500.7 568.1,494.7 571.0,490.2C574.0,485.8 577.9,482.0 582.5,479.6C587.0,477.3 593.0,476.3 598.5,476.2Z" fill="#fdd25a"/>
<path d="M597.9,520.6C593.8,522.3 589.6,525.5 587.0,529.0C584.4,532.5 582.9,536.9 582.3,541.5C581.6,546.1 582.3,551.2 583.2,556.5C584.1,561.8 585.8,567.7 587.6,573.4C589.4,579.1 591.6,585.1 593.8,590.8C596.1,596.5 598.7,602.2 601.0,607.7C603.3,613.2 606.0,618.3 607.9,623.9C609.8,629.5 611.4,635.3 612.5,641.4C613.7,647.5 614.0,654.3 614.7,660.7C615.4,667.2 615.6,673.8 616.6,680.1C617.6,686.3 618.8,692.4 620.7,698.2C622.5,704.0 625.0,709.8 627.8,715.1C630.7,720.4 634.1,725.4 637.8,730.0C641.5,734.6 645.7,738.8 650.0,742.5C654.3,746.1 658.9,749.5 663.4,751.9C667.9,754.2 672.6,755.9 677.1,756.6C681.6,757.2 686.2,756.8 690.2,755.6C694.3,754.5 698.1,752.3 701.2,749.7C704.2,747.1 706.7,743.6 708.5,740.0C710.2,736.4 711.3,732.3 711.7,728.2C712.1,724.0 711.9,719.6 711.0,715.1C710.1,710.6 708.4,705.8 706.2,701.3C704.0,696.8 701.0,692.4 697.8,688.2C694.5,684.0 690.8,680.0 686.8,676.0C682.8,672.1 678.5,668.2 674.0,664.5C669.5,660.8 664.5,657.1 659.7,653.6C654.9,650.1 649.7,646.8 645.3,643.3C641.0,639.8 636.6,636.5 633.5,632.7C630.3,628.8 627.8,624.7 626.3,620.2C624.8,615.7 624.4,610.7 624.4,605.8C624.5,600.9 625.6,595.9 626.6,590.8C627.6,585.7 629.4,580.5 630.5,575.2C631.7,570.0 633.0,564.2 633.5,559.0C634.1,553.8 634.4,548.6 634.0,544.0C633.5,539.5 632.7,535.3 631.0,531.8C629.2,528.4 626.7,525.3 623.5,523.1C620.2,520.9 615.9,519.2 611.6,518.8C607.3,518.3 602.0,518.9 597.9,520.6Z" fill="#f3f73d"/>
<circle cx="569.3" cy="101.4" r="5.2" fill="#a6cee3" fill-opacity="0.76"/>
<circle cx="587.3" cy="186.2" r="7.0" fill="#a6cee3" fill-opacity="0.76"/>
<circle cx="634.7" cy="190.7" r="6.7" fill="#a6cee3" fill-opacity="0.76"/>
<circle cx="647.2" cy="227.4" r="6.7" fill="#a6cee3" fill-opacity="0.76"/>
<circle cx="512.9" cy="229.9" r="5.2" fill="#a6cee3" fill-opacity="0.76"/>
<circle cx="584.0" cy="281.8" r="6.7" fill="#a6cee3" fill-opacity="0.76"/>
<circle cx="513.6" cy="293.5" r="6.5" fill="#a6cee3" fill-opacity="0.76"/>
<circle cx="516.1" cy="299.8" r="6.0" fill="#a6cee3" fill-opacity="0.76"/>
<circle cx="526.1" cy="306.0" r="6.2" fill="#a6cee3" fill-opacity="0.76"/>
<circle cx="480.4" cy="317.2" r="5.5" fill="#a6cee3" fill-opacity="0.76"/>
<circle cx="593.5" cy="311.5" r="5.5" fill="#a6cee3" fill-opacity="0.76"/>
<circle cx="541.6" cy="321.0" r="5.7" fill="#a6cee3" fill-opacity="0.76"/>
<circle cx="540.6" cy="328.5" r="6.0" fill="#a6cee3" fill-opacity="0.76"/>
<circle cx="579.8" cy="324.2" r="7.5" fill="#a6cee3" fill-opacity="0.76"/>
<circle cx="655.9" cy="339.0" r="6.7" fill="#a6cee3" fill-opacity="0.76"/>
<circle cx="509.1" cy="346.7" r="6.7" fill="#a6cee3" fill-opacity="0.76"/>
<circle cx="511.9" cy="363.4" r="7.5" fill="#a6cee3" fill-opacity="0.76"/>
<circle cx="533.1" cy="367.7" r="6.2" fill="#a6cee3" fill-opacity="0.76"/>
<circle cx="544.8" cy="372.9" r="5.2" fill="#a6cee3" fill-opacity="0.76"/>
<circle cx="563.5" cy="369.2" r="7.5" fill="#a6cee3" fill-opacity="0.76"/>
<circle cx="584.0" cy="362.9" r="7.7" fill="#a6cee3" fill-opacity="0.76"/>
<circle cx="581.0" cy="378.4" r="7.5" fill="#a6cee3" fill-opacity="0.76"/>
<circle cx="507.9" cy="385.4" r="6.5" fill="#a6cee3" fill-opacity="0.76"/>
<circle cx="638.9" cy="381.6" r="7.7" fill="#a6cee3" fill-opacity="0.76"/>
<circle cx="648.4" cy="389.6" r="7.0" fill="#a6cee3" fill-opacity="0.76"/>
<circle cx="638.4" cy="400.9" r="7.5" fill="#a6cee3" fill-opacity="0.76"/>
<circle cx="594.8" cy="404.6" r="5.2" fill="#a6cee3" fill-opacity="0.76"/>
<circle cx="610.2" cy="407.1" r="7.7" fill="#a6cee3" fill-opacity="0.76"/>
<circle cx="576.8" cy="419.6" r="7.0" fill="#a6cee3" fill-opacity="0.76"/>
<circle cx="545.6" cy="442.8" r="5.2" fill="#a6cee3" fill-opacity="0.76"/>
<circle cx="555.6" cy="463.3" r="8.0" fill="#a6cee3" fill-opacity="0.76"/>
<circle cx="556.1" cy="469.5" r="7.0" fill="#a6cee3" fill-opacity="0.76"/>
<circle cx="678.6" cy="462.8" r="6.7" fill="#a6cee3" fill-opacity="0.76"/>
<circle cx="507.9" cy="469.5" r="6.5" fill="#a6cee3" fill-opacity="0.76"/>
<circle cx="529.8" cy="478.3" r="6.5" fill="#a6cee3" fill-opacity="0.76"/>
<circle cx="864.4" cy="474.5" r="8.5" fill="#a6cee3" fill-opacity="0.76"/>
<circle cx="877.4" cy="477.0" r="8.5" fill="#a6cee3" fill-opacity="0.76"/>
<circle cx="642.9" cy="493.5" r="7.7" fill="#a6cee3" fill-opacity="0.76"/>
<circle cx="650.9" cy="506.0" r="6.7" fill="#a6cee3" fill-opacity="0.76"/>
<circle cx="681.4" cy="497.7" r="7.7" fill="#a6cee3" fill-opacity="0.76"/>
<circle cx="686.4" cy="516.0" r="6.7" fill="#a6cee3" fill-opacity="0.76"/>
<circle cx="707.1" cy="513.5" r="7.5" fill="#a6cee3" fill-opacity="0.76"/>
<circle cx="844.4" cy="500.5" r="7.7" fill="#a6cee3" fill-opacity="0.76"/>
<circle cx="557.8" cy="502.2" r="7.7" fill="#a6cee3" fill-opacity="0.76"/>
<circle cx="549.8" cy="513.0" r="6.7" fill="#a6cee3" fill-opacity="0.76"/>
<circle cx="561.1" cy="519.7" r="6.7" fill="#a6cee3" fill-opacity="0.76"/>
<circle cx="583.5" cy="514.2" r="7.5" fill="#a6cee3" fill-opacity="0.76"/>
<circle cx="598.0" cy="513.5" r="7.0" fill="#a6cee3" fill-opacity="0.76"/>
<circle cx="611.0" cy="520.9" r="8.7" fill="#a6cee3" fill-opacity="0.76"/>
<circle cx="632.7" cy="517.2" r="8.0" fill="#a6cee3" fill-opacity="0.76"/>
<circle cx="629.7" cy="525.9" r="7.0" fill="#a6cee3" fill-opacity="0.76"/>
<circle cx="637.2" cy="530.9" r="5.5" fill="#a6cee3" fill-opacity="0.76"/>
<circle cx="523.6" cy="523.9" r="7.2" fill="#a6cee3" fill-opacity="0.76"/>
<circle cx="565.5" cy="534.7" r="8.5" fill="#a6cee3" fill-opacity="0.76"/>
<circle cx="678.4" cy="532.2" r="7.7" fill="#a6cee3" fill-opacity="0.76"/>
<circle cx="613.5" cy="543.4" r="8.0" fill="#a6cee3" fill-opacity="0.76"/>
<circle cx="626.7" cy="548.4" r="7.5" fill="#a6cee3" fill-opacity="0.76"/>
<circle cx="640.9" cy="540.9" r="6.2" fill="#a6cee3" fill-opacity="0.76"/>
<circle cx="579.0" cy="551.4" r="7.7" fill="#a6cee3" fill-opacity="0.76"/>
<circle cx="727.6" cy="540.2" r="6.2" fill="#a6cee3" fill-opacity="0.76"/>
<circle cx="706.3" cy="556.6" r="6.2" fill="#a6cee3" fill-opacity="0.76"/>
<circle cx="728.3" cy="559.6" r="6.2" fill="#a6cee3" fill-opacity="0.76"/>
<circle cx="852.4" cy="556.6" r="7.5" fill="#a6cee3" fill-opacity="0.76"/>
<circle cx="888.1" cy="568.4" r="7.7" fill="#a6cee3" fill-opacity="0.76"/>
<circle cx="602.2" cy="564.6" r="9.5" fill="#a6cee3" fill-opacity="0.76"/>
<circle cx="571.0" cy="570.4" r="7.0" fill="#a6cee3" fill-opacity="0.76"/>
<circle cx="666.4" cy="583.4" r="7.7" fill="#a6cee3" fill-opacity="0.76"/>
<circle cx="586.5" cy="584.6" r="8.0" fill="#a6cee3" fill-opacity="0.76"/>
<circle cx="723.8" cy="595.8" r="6.5" fill="#a6cee3" fill-opacity="0.76"/>
<circle cx="539.1" cy="600.3" r="7.2" fill="#a6cee3" fill-opacity="0.76"/>
<circle cx="560.3" cy="610.8" r="5.2" fill="#a6cee3" fill-opacity="0.76"/>
<circle cx="577.8" cy="610.3" r="5.5" fill="#a6cee3" fill-opacity="0.76"/>
<circle cx="609.7" cy="617.8" r="7.0" fill="#a6cee3" fill-opacity="0.76"/>
<circle cx="602.2" cy="628.3" r="7.5" fill="#a6cee3" fill-opacity="0.76"/>
<circle cx="616.0" cy="631.5" r="7.0" fill="#a6cee3" fill-opacity="0.76"/>
<circle cx="803.2" cy="623.8" r="7.5" fill="#a6cee3" fill-opacity="0.76"/>
<circle cx="841.2" cy="627.0" r="6.7" fill="#a6cee3" fill-opacity="0.76"/>
<circle cx="877.4" cy="618.8" r="9.2" fill="#a6cee3" fill-opacity="0.76"/>
<circle cx="571.0" cy="637.8" r="7.0" fill="#a6cee3" fill-opacity="0.76"/>
<circle cx="577.3" cy="636.3" r="5.5" fill="#a6cee3" fill-opacity="0.76"/>
<circle cx="646.7" cy="640.8" r="7.7" fill="#a6cee3" fill-opacity="0.76"/>
<circle cx="594.0" cy="651.5" r="9.5" fill="#a6cee3" fill-opacity="0.76"/>
<circle cx="621.0" cy="652.0" r="6.7" fill="#a6cee3" fill-opacity="0.76"/>
<circle cx="558.6" cy="655.8" r="5.2" fill="#a6cee3" fill-opacity="0.76"/>
<circle cx="708.3" cy="657.5" r="7.7" fill="#a6cee3" fill-opacity="0.76"/>
<circle cx="694.1" cy="663.2" r="6.7" fill="#a6cee3" fill-opacity="0.76"/>
<circle cx="608.5" cy="664.0" r="5.5" fill="#a6cee3" fill-opacity="0.76"/>
<circle cx="595.5" cy="671.5" r="7.0" fill="#a6cee3" fill-opacity="0.76"/>
<circle cx="678.9" cy="673.2" r="6.7" fill="#a6cee3" fill-opacity="0.76"/>
<circle cx="784.0" cy="665.2" r="9.0" fill="#a6cee3" fill-opacity="0.76"/>
<circle cx="804.5" cy="666.2" r="7.5" fill="#a6cee3" fill-opacity="0.76"/>
<circle cx="816.9" cy="668.2" r="7.5" fill="#a6cee3" fill-opacity="0.76"/>
<circle cx="837.4" cy="674.5" r="7.5" fill="#a6cee3" fill-opacity="0.76"/>
<circle cx="837.4" cy="680.7" r="7.0" fill="#a6cee3" fill-opacity="0.76"/>
<circle cx="612.2" cy="685.0" r="7.7" fill="#a6cee3" fill-opacity="0.76"/>
<circle cx="745.8" cy="695.2" r="9.0" fill="#a6cee3" fill-opacity="0.76"/>
<circle cx="826.9" cy="696.9" r="7.7" fill="#a6cee3" fill-opacity="0.76"/>
<circle cx="702.1" cy="701.9" r="8.2" fill="#a6cee3" fill-opacity="0.76"/>
<circle cx="709.6" cy="704.4" r="6.2" fill="#a6cee3" fill-opacity="0.76"/>
<circle cx="728.8" cy="704.4" r="9.2" fill="#a6cee3" fill-opacity="0.76"/>
<circle cx="789.5" cy="707.4" r="9.2" fill="#a6cee3" fill-opacity="0.76"/>
<circle cx="635.9" cy="705.7" r="7.0" fill="#a6cee3" fill-opacity="0.76"/>
<circle cx="682.1" cy="708.2" r="5.7" fill="#a6cee3" fill-opacity="0.76"/>
<circle cx="688.4" cy="711.9" r="7.5" fill="#a6cee3" fill-opacity="0.76"/>
<circle cx="602.2" cy="706.9" r="7.5" fill="#a6cee3" fill-opacity="0.76"/>
<circle cx="607.2" cy="714.4" r="5.0" fill="#a6cee3" fill-opacity="0.76"/>
<circle cx="584.0" cy="713.2" r="5.5" fill="#a6cee3" fill-opacity="0.76"/>
<circle cx="515.4" cy="707.4" r="5.2" fill="#a6cee3" fill-opacity="0.76"/>
<circle cx="517.4" cy="727.7" r="5.2" fill="#a6cee3" fill-opacity="0.76"/>
<circle cx="609.0" cy="727.7" r="5.0" fill="#a6cee3" fill-opacity="0.76"/>
<circle cx="804.5" cy="717.4" r="6.5" fill="#a6cee3" fill-opacity="0.76"/>
<circle cx="815.7" cy="726.9" r="6.2" fill="#a6cee3" fill-opacity="0.76"/>
<circle cx="818.2" cy="738.1" r="6.7" fill="#a6cee3" fill-opacity="0.76"/>
<circle cx="652.2" cy="723.2" r="6.5" fill="#a6cee3" fill-opacity="0.76"/>
<circle cx="663.4" cy="724.4" r="6.0" fill="#a6cee3" fill-opacity="0.76"/>
<circle cx="670.9" cy="726.9" r="5.5" fill="#a6cee3" fill-opacity="0.76"/>
<circle cx="677.1" cy="733.1" r="5.0" fill="#a6cee3" fill-opacity="0.76"/>
<circle cx="694.6" cy="741.9" r="7.2" fill="#a6cee3" fill-opacity="0.76"/>
<circle cx="668.9" cy="749.4" r="6.7" fill="#a6cee3" fill-opacity="0.76"/>
<circle cx="682.1" cy="750.6" r="6.7" fill="#a6cee3" fill-opacity="0.76"/>
<circle cx="674.6" cy="759.4" r="5.5" fill="#a6cee3" fill-opacity="0.76"/>
<circle cx="762.0" cy="758.1" r="6.7" fill="#a6cee3" fill-opacity="0.76"/>
<circle cx="781.5" cy="755.1" r="6.7" fill="#a6cee3" fill-opacity="0.76"/>
<circle cx="901.8" cy="730.6" r="8.7" fill="#a6cee3" fill-opacity="0.76"/>
<circle cx="896.8" cy="740.6" r="8.7" fill="#a6cee3" fill-opacity="0.76"/>
<circle cx="894.3" cy="750.6" r="8.2" fill="#a6cee3" fill-opacity="0.76"/>
<circle cx="893.1" cy="763.1" r="7.0" fill="#a6cee3" fill-opacity="0.76"/>
<circle cx="871.9" cy="753.1" r="6.7" fill="#a6cee3" fill-opacity="0.76"/>
<circle cx="879.4" cy="759.4" r="6.2" fill="#a6cee3" fill-opacity="0.76"/>
<circle cx="941.8" cy="733.6" r="7.5" fill="#a6cee3" fill-opacity="0.76"/>
<circle cx="954.3" cy="743.1" r="7.5" fill="#a6cee3" fill-opacity="0.76"/>
<circle cx="843.7" cy="768.1" r="7.0" fill="#a6cee3" fill-opacity="0.76"/>
<circle cx="846.9" cy="779.3" r="7.0" fill="#a6cee3" fill-opacity="0.76"/>
<circle cx="849.4" cy="790.6" r="7.5" fill="#a6cee3" fill-opacity="0.76"/>
<circle cx="898.1" cy="784.3" r="7.7" fill="#a6cee3" fill-opacity="0.76"/>
<circle cx="588.5" cy="783.8" r="5.0" fill="#a6cee3" fill-opacity="0.76"/>
<circle cx="627.2" cy="788.1" r="7.0" fill="#a6cee3" fill-opacity="0.76"/>
<circle cx="621.7" cy="801.8" r="5.2" fill="#a6cee3" fill-opacity="0.76"/>
<circle cx="707.1" cy="796.8" r="5.5" fill="#a6cee3" fill-opacity="0.76"/>
<circle cx="715.3" cy="810.5" r="7.2" fill="#a6cee3" fill-opacity="0.76"/>
<circle cx="645.9" cy="814.8" r="5.2" fill="#a6cee3" fill-opacity="0.76"/>
<circle cx="683.4" cy="818.0" r="7.0" fill="#a6cee3" fill-opacity="0.76"/>
<circle cx="753.3" cy="813.0" r="7.2" fill="#a6cee3" fill-opacity="0.76"/>
<circle cx="790.2" cy="806.3" r="6.7" fill="#a6cee3" fill-opacity="0.76"/>
<circle cx="699.6" cy="828.0" r="5.0" fill="#a6cee3" fill-opacity="0.76"/>
<circle cx="721.3" cy="826.8" r="7.0" fill="#a6cee3" fill-opacity="0.76"/>
<circle cx="750.8" cy="829.3" r="6.5" fill="#a6cee3" fill-opacity="0.76"/>
<circle cx="775.3" cy="841.1" r="7.0" fill="#a6cee3" fill-opacity="0.76"/>
<circle cx="810.0" cy="840.6" r="6.7" fill="#a6cee3" fill-opacity="0.76"/>
<circle cx="874.4" cy="840.4" r="6.7" fill="#a6cee3" fill-opacity="0.76"/>
<circle cx="863.1" cy="851.8" r="6.7" fill="#a6cee3" fill-opacity="0.76"/>
<circle cx="950.5" cy="844.9" r="6.7" fill="#a6cee3" fill-opacity="0.76"/>
<circle cx="476.2" cy="873.6" r="5.0" fill="#a6cee3" fill-opacity="0.76"/>
<circle cx="479.9" cy="889.3" r="4.5" fill="#a6cee3" fill-opacity="0.76"/>
<circle cx="848.6" cy="876.1" r="6.5" fill="#a6cee3" fill-opacity="0.76"/>
<circle cx="709.6" cy="891.0" r="5.5" fill="#a6cee3" fill-opacity="0.76"/>
<circle cx="790.2" cy="901.0" r="5.2" fill="#a6cee3" fill-opacity="0.76"/>
<circle cx="593.0" cy="936.0" r="5.5" fill="#a6cee3" fill-opacity="0.76"/>
<circle cx="972.0" cy="773.4" r="6.7" fill="#a6cee3" fill-opacity="0.76"/>
<circle cx="977.5" cy="776.2" r="6.7" fill="#a6cee3" fill-opacity="0.76"/>
<circle cx="985.5" cy="766.9" r="7.0" fill="#a6cee3" fill-opacity="0.76"/>
<circle cx="1041.7" cy="801.1" r="7.4" fill="#a6cee3" fill-opacity="0.76"/>
<circle cx="1059.8" cy="795.6" r="7.8" fill="#a6cee3" fill-opacity="0.76"/>
<circle cx="1062.6" cy="851.1" r="6.7" fill="#a6cee3" fill-opacity="0.76"/>
<circle cx="1022.8" cy="859.4" r="6.7" fill="#a6cee3" fill-opacity="0.76"/>
<circle cx="1034.9" cy="859.4" r="6.7" fill="#a6cee3" fill-opacity="0.76"/>
<circle cx="986.2" cy="858.5" r="6.7" fill="#a6cee3" fill-opacity="0.76"/>
<circle cx="987.1" cy="863.1" r="6.3" fill="#a6cee3" fill-opacity="0.76"/>
<circle cx="1123.6" cy="870.5" r="7.4" fill="#a6cee3" fill-opacity="0.76"/>
</g>
<line x1="413.0" x2="1249.0" y1="871.5" y2="871.5" stroke="#000" stroke-width="2.8"/>
<line x1="413.0" x2="1249.0" y1="977.6" y2="977.6" stroke="#000" stroke-width="2.8"/>
<line x1="413.0" x2="1249.0" y1="1007.2" y2="1007.2" stroke="#000" stroke-width="2.8"/>
<rect x="1329.3" y="194.0" width="836.7" height="635.5" fill="#f2f2f2"/>
<rect x="1329.3" y="829.5" width="836.7" height="177.4" fill="#dadada"/>
<rect x="1329.3" y="888.7" width="836.7" height="103.5" fill="#c4c4c4"/>
<g clip-path="url(#cpd)">
<path d="M1482.3,683.3C1482.1,674.1 1482.9,664.2 1484.4,654.3C1485.9,644.4 1488.6,634.0 1491.3,623.8C1493.9,613.6 1497.8,603.4 1500.4,593.2C1503.0,583.0 1505.9,572.7 1506.8,562.7C1507.6,552.7 1506.8,542.6 1505.5,533.2C1504.2,523.8 1500.9,514.8 1499.1,506.3C1497.3,497.8 1495.1,489.8 1494.8,482.4C1494.6,475.0 1495.4,468.2 1497.6,462.1C1499.8,455.9 1503.7,450.5 1508.1,445.8C1512.4,441.1 1518.0,437.0 1523.6,433.8C1529.2,430.6 1535.5,428.1 1541.9,426.4C1548.3,424.8 1555.1,423.8 1561.7,423.9C1568.3,424.0 1575.2,425.0 1581.6,426.9C1587.9,428.9 1594.2,432.1 1599.9,435.8C1605.5,439.6 1610.8,444.5 1615.6,449.3C1620.4,454.2 1624.6,459.8 1628.8,465.1C1633.0,470.4 1636.8,476.0 1641.0,480.9C1645.2,485.7 1649.3,490.8 1653.7,494.1C1658.1,497.4 1662.8,499.9 1667.5,500.7C1672.1,501.4 1676.9,500.2 1681.7,498.6C1686.6,497.1 1691.4,493.9 1696.5,491.5C1701.6,489.2 1706.9,486.3 1712.2,484.7C1717.6,483.1 1723.1,481.9 1728.5,481.9C1733.9,481.9 1739.5,482.8 1744.8,484.4C1750.1,486.0 1755.6,488.5 1760.6,491.5C1765.6,494.5 1770.4,498.2 1774.8,502.5C1779.2,506.7 1783.4,511.6 1787.0,517.0C1790.6,522.3 1794.0,528.5 1796.7,534.8C1799.4,541.0 1801.3,547.9 1803.3,554.6C1805.2,561.3 1806.6,568.1 1808.3,574.9C1810.1,581.7 1812.0,588.5 1814.0,595.3C1815.9,602.1 1818.1,608.8 1820.1,615.6C1822.1,622.4 1824.2,629.2 1826.2,636.0C1828.2,642.8 1830.3,649.8 1832.3,656.3C1834.3,662.9 1836.2,669.5 1838.0,675.4C1839.8,681.4 1841.4,686.7 1843.1,691.9C1844.8,697.1 1846.3,701.7 1848.5,706.5C1850.7,711.3 1852.9,715.9 1856.0,720.5C1859.1,725.1 1862.7,729.9 1867.0,734.0C1871.3,738.1 1876.4,742.0 1881.8,745.4C1887.2,748.8 1893.4,751.5 1899.2,754.5C1905.1,757.4 1911.3,760.1 1916.7,763.1C1922.1,766.1 1927.3,769.1 1931.5,772.6C1935.7,776.0 1939.3,779.5 1941.9,783.7C1944.5,787.8 1946.2,792.6 1947.3,797.6C1948.5,802.6 1948.9,808.8 1949.1,813.8C1949.3,818.8 1949.8,823.9 1948.5,827.6C1947.2,831.3 1945.6,833.8 1941.2,835.9C1936.8,838.0 1929.7,839.0 1922.0,840.5C1914.4,842.0 1904.4,843.2 1895.5,845.1C1886.6,847.1 1877.2,849.6 1868.6,852.1C1860.1,854.5 1851.9,857.7 1844.2,859.9C1836.4,862.2 1829.6,864.1 1822.4,865.5C1815.3,866.9 1808.4,867.6 1801.2,868.5C1794.0,869.4 1786.2,870.1 1779.2,871.0C1772.1,871.9 1765.3,873.0 1759.0,874.1C1752.7,875.3 1746.9,876.7 1741.2,878.0C1735.5,879.3 1730.0,880.9 1724.9,881.9C1719.8,883.0 1715.3,884.1 1710.7,884.5C1706.1,884.9 1702.2,884.7 1697.5,884.5C1692.8,884.2 1688.3,883.6 1682.8,883.0C1677.3,882.3 1671.1,881.7 1664.5,880.6C1657.9,879.5 1650.4,878.2 1643.1,876.2C1635.8,874.3 1628.1,872.0 1620.7,869.1C1613.3,866.3 1605.9,862.9 1598.8,859.2C1591.8,855.5 1584.9,851.4 1578.5,847.0C1572.1,842.6 1566.0,837.8 1560.2,832.7C1554.4,827.6 1549.1,822.2 1543.9,816.5C1538.8,810.7 1534.1,804.6 1529.4,798.2C1524.8,791.7 1520.4,784.8 1516.2,777.8C1512.0,770.8 1507.9,763.4 1504.2,755.9C1500.5,748.5 1497.1,740.9 1494.1,733.1C1491.1,725.3 1488.1,717.5 1486.2,709.2C1484.2,700.9 1482.6,692.4 1482.3,683.3Z" fill="#efebf7"/>
<path d="M1507.8,684.3C1507.2,677.7 1507.6,671.1 1508.6,664.4C1509.5,657.7 1511.5,650.9 1513.7,644.1C1515.8,637.3 1518.6,630.4 1521.5,623.8C1524.4,617.2 1527.9,610.4 1531.2,604.4C1534.5,598.4 1538.0,592.9 1541.4,587.6C1544.8,582.4 1548.2,577.6 1551.5,572.9C1554.9,568.2 1558.1,563.4 1561.4,559.2C1564.8,555.0 1567.9,550.6 1571.4,547.5C1574.9,544.4 1578.5,541.8 1582.4,540.6C1586.2,539.4 1590.3,539.6 1594.3,540.3C1598.3,541.1 1602.4,543.0 1606.5,545.2C1610.6,547.3 1614.6,550.1 1618.7,553.1C1622.8,556.1 1626.8,559.6 1630.9,563.2C1635.0,566.9 1639.0,571.1 1643.1,574.9C1647.2,578.7 1651.3,583.0 1655.3,585.8C1659.3,588.7 1663.4,591.2 1667.0,592.0C1670.6,592.7 1674.1,592.1 1677.2,590.5C1680.2,588.8 1682.8,585.5 1685.3,581.8C1687.8,578.1 1689.8,573.1 1691.9,568.3C1694.0,563.5 1695.9,557.9 1698.0,553.1C1700.1,548.2 1702.1,543.3 1704.6,539.3C1707.1,535.4 1709.7,531.9 1712.7,529.2C1715.8,526.5 1719.3,524.5 1722.9,523.1C1726.5,521.7 1730.6,521.0 1734.6,520.8C1738.6,520.6 1742.8,521.0 1746.8,522.0C1750.8,523.1 1754.9,524.7 1758.5,527.1C1762.1,529.5 1765.6,532.6 1768.7,536.3C1771.7,540.0 1774.4,544.4 1776.8,549.3C1779.2,554.1 1781.1,559.6 1782.9,565.3C1784.7,571.0 1786.1,577.2 1787.5,583.6C1788.9,590.0 1790.1,596.7 1791.6,603.4C1793.0,610.1 1794.3,617.0 1796.1,623.8C1797.9,630.6 1799.9,637.3 1802.2,644.1C1804.5,650.9 1807.4,658.3 1809.9,664.4C1812.3,670.5 1814.8,676.0 1817.0,680.7C1819.2,685.4 1820.8,688.0 1822.8,692.4C1824.9,696.8 1827.0,701.6 1829.2,707.1C1831.4,712.6 1833.9,719.3 1836.1,725.4C1838.3,731.5 1840.3,737.7 1842.4,743.7C1844.5,749.8 1846.5,756.0 1848.5,761.5C1850.5,767.1 1852.9,772.6 1854.4,777.2C1856.0,781.8 1857.7,785.6 1857.8,789.2C1857.9,792.9 1857.0,795.9 1855.0,799.0C1852.9,802.2 1849.5,805.4 1845.5,808.3C1841.5,811.2 1836.6,814.0 1831.2,816.5C1825.9,819.0 1819.7,821.1 1813.4,823.3C1807.2,825.6 1800.3,827.9 1793.6,830.2C1786.9,832.5 1780.1,834.9 1773.3,837.3C1766.5,839.7 1759.7,842.1 1752.9,844.4C1746.1,846.7 1739.4,849.1 1732.6,851.0C1725.8,853.0 1719.0,854.7 1712.2,855.9C1705.4,857.0 1698.7,857.8 1691.9,857.9C1685.1,858.1 1678.4,857.7 1671.6,856.9C1664.8,856.1 1658.0,854.8 1651.2,853.1C1644.4,851.4 1637.6,849.4 1630.9,847.0C1624.2,844.6 1617.4,841.9 1611.0,838.9C1604.7,835.8 1598.5,832.4 1592.7,828.7C1587.0,825.0 1581.6,820.9 1576.5,816.5C1571.4,812.1 1566.7,807.3 1562.2,802.2C1557.8,797.1 1553.7,791.7 1549.8,786.0C1545.8,780.2 1542.1,774.1 1538.6,767.7C1535.0,761.2 1531.5,754.3 1528.4,747.3C1525.2,740.3 1522.2,732.6 1519.5,725.4C1516.8,718.2 1514.1,711.0 1512.2,704.1C1510.2,697.2 1508.4,690.9 1507.8,684.3Z" fill="#e6d6ee"/>
<path d="M1526.9,683.8C1526.2,677.5 1526.2,670.9 1526.9,664.4C1527.6,658.0 1529.2,651.1 1531.2,645.1C1533.2,639.1 1535.9,633.6 1539.1,628.3C1542.2,623.1 1546.1,618.3 1550.2,613.6C1554.4,608.9 1559.1,604.2 1563.7,600.4C1568.3,596.6 1573.2,593.0 1578.0,590.7C1582.7,588.5 1587.5,587.2 1592.2,586.9C1597.0,586.6 1601.7,587.7 1606.5,589.2C1611.2,590.7 1616.0,593.3 1620.7,596.0C1625.4,598.8 1630.2,602.2 1634.9,605.4C1639.7,608.6 1644.4,612.2 1649.2,615.1C1653.9,618.0 1658.7,620.9 1663.4,622.8C1668.2,624.6 1673.0,626.0 1677.7,626.3C1682.3,626.6 1687.2,626.0 1691.4,624.3C1695.6,622.6 1699.7,619.7 1703.1,616.1C1706.4,612.6 1709.1,607.7 1711.5,602.9C1713.8,598.1 1715.4,592.4 1717.3,587.6C1719.3,582.9 1720.8,578.0 1723.2,574.4C1725.5,570.9 1728.4,568.0 1731.5,566.3C1734.7,564.6 1738.8,563.8 1742.2,564.0C1745.7,564.2 1749.4,565.3 1752.4,567.3C1755.5,569.3 1758.2,572.5 1760.6,576.2C1763.0,579.9 1764.9,584.7 1766.7,589.7C1768.5,594.7 1769.8,600.3 1771.2,606.0C1772.7,611.7 1773.9,617.8 1775.3,623.8C1776.7,629.8 1778.1,636.2 1779.9,642.1C1781.7,648.0 1783.7,654.1 1786.0,659.4C1788.3,664.6 1791.1,669.4 1793.6,673.6C1796.0,677.8 1798.6,681.0 1800.7,684.8C1802.8,688.6 1804.4,692.0 1806.3,696.5C1808.2,700.9 1810.0,706.0 1811.9,711.2C1813.9,716.4 1816.0,722.1 1818.0,727.5C1820.0,732.9 1822.1,738.3 1823.6,743.7C1825.1,749.1 1826.7,754.7 1827.2,760.0C1827.7,765.3 1827.8,770.8 1826.7,775.8C1825.6,780.8 1823.5,785.6 1820.6,790.0C1817.6,794.4 1813.5,798.5 1808.9,802.2C1804.3,805.9 1798.8,809.2 1793.1,812.1C1787.4,815.1 1781.1,817.5 1774.8,820.0C1768.4,822.5 1761.6,824.8 1754.9,827.1C1748.2,829.5 1741.4,831.9 1734.6,834.0C1727.8,836.1 1721.1,838.3 1714.3,839.9C1707.5,841.5 1700.7,842.9 1693.9,843.7C1687.1,844.4 1680.4,844.8 1673.6,844.5C1666.8,844.1 1660.0,843.1 1653.2,841.7C1646.4,840.2 1639.6,838.1 1632.9,835.5C1626.2,833.0 1619.4,829.9 1613.1,826.4C1606.8,822.8 1600.6,818.8 1595.0,814.4C1589.5,810.0 1584.3,805.1 1579.5,799.7C1574.7,794.3 1570.4,788.2 1566.3,781.9C1562.2,775.6 1558.5,768.8 1555.1,762.1C1551.7,755.4 1548.6,748.5 1545.7,741.7C1542.8,734.9 1540.2,728.0 1537.8,721.4C1535.4,714.8 1533.0,708.3 1531.2,702.0C1529.4,695.8 1527.6,690.0 1526.9,683.8Z" fill="#e0bfe2"/>
<path d="M1544.9,683.8C1544.5,677.6 1544.5,671.0 1545.4,664.9C1546.4,658.8 1548.2,652.5 1550.8,647.1C1553.3,641.8 1556.8,636.8 1560.7,632.9C1564.6,629.0 1569.5,625.7 1574.4,623.5C1579.3,621.3 1584.9,620.3 1590.2,620.0C1595.5,619.6 1601.1,620.5 1606.5,621.5C1611.9,622.5 1617.3,624.3 1622.7,626.0C1628.1,627.8 1633.6,629.9 1639.0,631.9C1644.4,633.9 1649.9,636.0 1655.3,637.8C1660.7,639.5 1666.2,641.3 1671.6,642.3C1677.0,643.4 1682.4,644.1 1687.8,644.1C1693.2,644.1 1698.8,643.2 1704.1,642.1C1709.4,640.9 1714.9,638.6 1719.9,637.2C1724.9,635.9 1729.8,633.9 1734.1,633.7C1738.4,633.5 1742.4,634.0 1745.8,635.9C1749.2,637.9 1751.9,641.4 1754.5,645.1C1757.0,648.8 1759.0,653.8 1761.1,658.3C1763.2,662.8 1765.1,667.7 1767.2,672.1C1769.3,676.5 1771.5,680.4 1773.8,684.6C1776.1,688.9 1778.6,692.9 1780.9,697.6C1783.2,702.2 1785.4,707.5 1787.5,712.7C1789.6,717.9 1791.5,723.6 1793.6,729.0C1795.7,734.4 1797.8,740.1 1800.0,745.3C1802.1,750.5 1804.6,755.7 1806.6,760.3C1808.5,764.9 1810.8,768.9 1811.9,772.8C1813.0,776.7 1813.9,780.3 1813.4,783.9C1813.0,787.4 1811.6,791.0 1809.1,794.4C1806.6,797.7 1802.8,801.0 1798.4,803.8C1794.1,806.7 1788.5,809.1 1782.9,811.3C1777.3,813.4 1771.0,815.0 1764.6,816.6C1758.2,818.3 1751.5,819.7 1744.8,821.2C1738.1,822.8 1731.2,824.4 1724.4,825.8C1717.6,827.3 1710.9,828.7 1704.1,829.7C1697.3,830.6 1690.6,831.3 1683.8,831.5C1677.0,831.6 1670.2,831.3 1663.4,830.4C1656.6,829.6 1649.8,828.2 1643.1,826.4C1636.4,824.5 1629.5,822.1 1623.2,819.2C1616.9,816.4 1610.8,813.0 1605.2,809.1C1599.6,805.2 1594.4,800.7 1589.7,795.9C1585.0,791.0 1580.7,785.6 1576.8,779.9C1572.8,774.2 1569.4,767.9 1566.3,761.6C1563.2,755.2 1560.6,748.4 1558.4,741.7C1556.2,735.0 1554.5,728.0 1552.8,721.4C1551.1,714.8 1549.6,708.3 1548.2,702.0C1546.9,695.8 1545.4,689.9 1544.9,683.8Z" fill="#e4b3d2"/>
<path d="M1564.5,685.8C1564.8,679.8 1565.6,674.0 1567.3,669.0C1569.0,664.0 1571.6,659.4 1574.9,655.8C1578.2,652.2 1582.5,649.3 1587.1,647.6C1591.8,646.0 1597.3,645.5 1602.9,645.6C1608.5,645.8 1614.7,647.3 1620.7,648.7C1626.7,650.1 1632.9,652.3 1639.0,654.0C1645.1,655.8 1651.2,657.7 1657.3,659.1C1663.4,660.6 1669.5,661.9 1675.6,662.6C1681.7,663.4 1687.9,663.7 1693.9,663.6C1699.9,663.6 1706.1,662.7 1711.7,662.4C1717.3,662.1 1722.8,661.3 1727.5,661.9C1732.1,662.5 1736.1,663.9 1739.7,665.9C1743.3,668.0 1746.0,671.3 1748.9,674.1C1751.8,676.8 1754.4,679.7 1757.2,682.5C1760.1,685.3 1763.1,687.6 1766.1,690.6C1769.0,693.6 1772.2,696.8 1775.0,700.5C1777.8,704.2 1780.7,708.5 1783.2,712.9C1785.7,717.4 1788.1,722.3 1790.0,727.2C1791.9,732.1 1793.6,737.2 1794.3,742.2C1795.0,747.2 1795.1,752.6 1794.1,757.5C1793.0,762.4 1790.9,767.3 1788.0,771.7C1785.0,776.1 1780.9,780.1 1776.3,783.6C1771.7,787.2 1766.2,790.3 1760.6,793.1C1754.9,795.9 1748.6,798.2 1742.3,800.5C1735.9,802.7 1729.1,804.7 1722.4,806.6C1715.7,808.4 1708.9,810.1 1702.1,811.4C1695.3,812.6 1688.5,813.6 1681.7,813.9C1674.9,814.2 1668.1,814.0 1661.4,813.1C1654.7,812.3 1647.9,811.0 1641.5,809.1C1635.2,807.2 1629.0,804.9 1623.2,802.0C1617.5,799.1 1612.0,795.6 1607.0,791.5C1601.9,787.5 1597.2,782.8 1593.0,777.8C1588.8,772.8 1585.0,767.2 1581.8,761.5C1578.6,755.9 1575.9,749.8 1573.7,743.7C1571.4,737.6 1569.7,731.3 1568.3,724.9C1566.9,718.5 1565.9,711.6 1565.3,705.1C1564.6,698.6 1564.2,691.8 1564.5,685.8Z" fill="#efb0b9"/>
<path d="M1592.5,679.1C1596.2,675.0 1601.3,671.9 1606.5,670.0C1611.7,668.1 1617.7,667.8 1623.8,668.0C1629.8,668.1 1636.5,669.6 1643.1,670.8C1649.7,671.9 1656.6,673.8 1663.4,675.1C1670.2,676.3 1677.0,677.4 1683.8,678.4C1690.6,679.4 1697.3,679.9 1704.1,680.9C1710.9,682.0 1717.8,682.9 1724.4,684.8C1731.0,686.6 1737.8,688.9 1743.8,692.1C1749.7,695.4 1755.4,699.6 1760.1,704.1C1764.7,708.6 1768.9,714.1 1771.8,719.3C1774.7,724.6 1776.8,730.3 1777.6,735.6C1778.5,740.9 1778.1,746.4 1776.9,751.4C1775.6,756.4 1773.1,761.2 1770.0,765.6C1766.8,770.0 1762.6,774.1 1758.0,777.8C1753.4,781.5 1747.9,784.8 1742.2,787.7C1736.6,790.6 1730.3,793.1 1723.9,795.1C1717.6,797.1 1710.8,798.8 1704.1,799.9C1697.4,801.1 1690.6,801.8 1683.8,802.0C1677.0,802.1 1670.1,801.8 1663.4,801.0C1656.7,800.1 1650.0,798.8 1643.6,796.9C1637.2,795.0 1631.0,792.7 1625.3,789.8C1619.6,786.8 1614.2,783.4 1609.5,779.4C1604.8,775.3 1600.6,770.6 1597.1,765.6C1593.5,760.6 1590.5,755.0 1588.2,749.3C1585.8,743.6 1584.1,737.5 1583.1,731.5C1582.0,725.5 1581.6,719.3 1581.8,713.2C1582.0,707.1 1582.6,700.6 1584.3,694.9C1586.1,689.2 1588.8,683.3 1592.5,679.1Z" fill="#f5ae9d"/>
<path d="M1605.0,706.1C1607.4,702.1 1611.2,697.6 1615.6,694.2C1620.0,690.7 1625.8,687.2 1631.4,685.2C1637.0,683.3 1643.2,682.4 1649.2,682.2C1655.2,682.0 1661.4,683.0 1667.5,684.0C1673.6,685.0 1679.7,686.4 1685.8,688.1C1691.9,689.7 1698.2,691.3 1704.1,693.6C1710.0,696.0 1716.2,698.7 1721.4,702.0C1726.6,705.4 1731.6,709.5 1735.2,713.7C1738.7,718.0 1741.4,722.8 1742.8,727.5C1744.1,732.1 1744.2,737.1 1743.3,741.7C1742.3,746.4 1740.1,751.1 1737.2,755.5C1734.2,759.8 1730.1,763.9 1725.5,767.7C1720.9,771.4 1715.3,774.9 1709.7,777.8C1704.1,780.8 1697.9,783.5 1691.9,785.5C1685.9,787.4 1679.6,788.8 1673.6,789.2C1667.6,789.7 1661.5,789.3 1655.8,788.2C1650.1,787.1 1644.6,785.1 1639.5,782.7C1634.4,780.2 1629.6,777.0 1625.3,773.5C1621.0,770.0 1616.9,765.9 1613.6,761.6C1610.3,757.2 1607.5,752.2 1605.4,747.3C1603.4,742.4 1602.2,736.9 1601.4,732.0C1600.6,727.2 1600.3,722.6 1600.9,718.3C1601.5,714.0 1602.5,710.1 1605.0,706.1Z" fill="#fbb778"/>
<path d="M1616.9,725.9C1618.1,721.1 1620.8,716.1 1624.2,712.2C1627.7,708.3 1632.6,704.9 1637.5,702.8C1642.3,700.7 1647.9,699.7 1653.2,699.5C1658.6,699.3 1664.1,700.4 1669.5,701.8C1674.9,703.1 1680.5,705.3 1685.8,707.6C1691.1,710.0 1696.6,712.7 1701.1,715.8C1705.6,718.8 1709.9,722.3 1712.8,725.9C1715.7,729.6 1717.7,733.6 1718.4,737.6C1719.0,741.6 1718.3,745.8 1716.8,749.8C1715.3,753.8 1712.5,757.9 1709.2,761.5C1705.9,765.2 1701.5,768.7 1697.0,771.5C1692.4,774.2 1687.0,776.5 1681.7,777.8C1676.5,779.1 1670.8,779.5 1665.5,779.1C1660.1,778.7 1654.7,777.3 1649.7,775.3C1644.7,773.3 1639.7,770.5 1635.4,767.2C1631.1,763.9 1627.0,759.8 1624.0,755.5C1620.9,751.1 1618.3,746.1 1617.1,741.2C1615.9,736.3 1615.7,730.8 1616.9,725.9Z" fill="#fdd25a"/>
<path d="M1646.6,721.4C1648.8,718.4 1651.4,714.9 1654.8,713.2C1658.1,711.6 1663.1,710.7 1667.0,711.2C1670.9,711.7 1675.4,713.9 1678.2,716.3C1681.0,718.7 1682.6,722.2 1683.8,725.4C1685.0,728.6 1684.7,732.1 1685.3,735.6C1685.9,739.1 1687.0,742.6 1687.3,746.3C1687.7,749.9 1688.5,754.0 1687.3,757.5C1686.1,761.0 1683.6,764.7 1680.2,767.2C1676.8,769.6 1671.7,771.7 1667.0,772.2C1662.2,772.8 1656.4,772.2 1651.7,770.7C1647.1,769.2 1642.1,766.2 1639.0,763.1C1636.0,759.9 1633.9,755.6 1633.4,751.9C1632.9,748.2 1634.6,744.2 1636.0,740.7C1637.3,737.2 1639.8,734.2 1641.6,731.0C1643.3,727.8 1644.4,724.3 1646.6,721.4Z" fill="#f3f73d"/>
<ellipse cx="1978" cy="862" rx="18" ry="12" fill="#efebf7"/>
<ellipse cx="2128" cy="886" rx="7" ry="4" fill="#efebf7"/>
<ellipse cx="1881" cy="797" rx="11" ry="2.5" fill="#e6d6ee"/>
<circle cx="1500.8" cy="121.6" r="5.3" fill="#7fc97f" fill-opacity="0.82"/>
<circle cx="1707.9" cy="111.1" r="9.5" fill="#7fc97f" fill-opacity="0.82"/>
<circle cx="1623.2" cy="247.9" r="8.2" fill="#7fc97f" fill-opacity="0.82"/>
<circle cx="1424.7" cy="357.1" r="8.2" fill="#7fc97f" fill-opacity="0.82"/>
<circle cx="1529.5" cy="359.5" r="5.3" fill="#7fc97f" fill-opacity="0.82"/>
<circle cx="1448.8" cy="446.2" r="6.9" fill="#7fc97f" fill-opacity="0.82"/>
<circle cx="1455.3" cy="455.9" r="8.1" fill="#7fc97f" fill-opacity="0.82"/>
<circle cx="1460.1" cy="790.8" r="5.3" fill="#7fc97f" fill-opacity="0.82"/>
<circle cx="1445.1" cy="837.4" r="5.3" fill="#7fc97f" fill-opacity="0.82"/>
<circle cx="1450.0" cy="863.8" r="5.0" fill="#7fc97f" fill-opacity="0.82"/>
<circle cx="1453.6" cy="866.2" r="4.5" fill="#7fc97f" fill-opacity="0.82"/>
<circle cx="1455.7" cy="880.4" r="5.3" fill="#7fc97f" fill-opacity="0.82"/>
<circle cx="1460.5" cy="892.6" r="5.3" fill="#7fc97f" fill-opacity="0.82"/>
<circle cx="1431.8" cy="961.5" r="5.3" fill="#7fc97f" fill-opacity="0.82"/>
<circle cx="1564.3" cy="925.4" r="5.5" fill="#7fc97f" fill-opacity="0.82"/>
<circle cx="1567.0" cy="928.0" r="4.2" fill="#7fc97f" fill-opacity="0.82"/>
<circle cx="1684.4" cy="896.1" r="6.9" fill="#7fc97f" fill-opacity="0.82"/>
<circle cx="1643.1" cy="951.0" r="5.0" fill="#7fc97f" fill-opacity="0.82"/>
<circle cx="1897.3" cy="962.4" r="6.7" fill="#7fc97f" fill-opacity="0.82"/>
<circle cx="1991.3" cy="942.6" r="6.7" fill="#7fc97f" fill-opacity="0.82"/>
<circle cx="2038.3" cy="944.8" r="6.7" fill="#7fc97f" fill-opacity="0.82"/>
<circle cx="2104.6" cy="916.6" r="6.7" fill="#7fc97f" fill-opacity="0.82"/>
<circle cx="1972.7" cy="883.7" r="8.2" fill="#7fc97f" fill-opacity="0.82"/>
<circle cx="2048.7" cy="885.0" r="8.2" fill="#7fc97f" fill-opacity="0.82"/>
<circle cx="2119.5" cy="891.9" r="7.4" fill="#7fc97f" fill-opacity="0.82"/>
<circle cx="2131.1" cy="896.1" r="8.9" fill="#7fc97f" fill-opacity="0.82"/>
<circle cx="1588.2" cy="414.6" r="8.1" fill="#7fc97f" fill-opacity="0.82"/>
<circle cx="1574.5" cy="422.0" r="6.7" fill="#7fc97f" fill-opacity="0.82"/>
<circle cx="1530.6" cy="439.7" r="6.7" fill="#7fc97f" fill-opacity="0.82"/>
<circle cx="1728.9" cy="436.6" r="7.7" fill="#7fc97f" fill-opacity="0.82"/>
<circle cx="1738.7" cy="442.7" r="8.1" fill="#7fc97f" fill-opacity="0.82"/>
<circle cx="1575.9" cy="454.9" r="8.1" fill="#7fc97f" fill-opacity="0.82"/>
<circle cx="1614.2" cy="455.3" r="8.1" fill="#7fc97f" fill-opacity="0.82"/>
<circle cx="1611.5" cy="465.1" r="7.7" fill="#7fc97f" fill-opacity="0.82"/>
<circle cx="1612.2" cy="472.2" r="8.1" fill="#7fc97f" fill-opacity="0.82"/>
<circle cx="1523.5" cy="470.2" r="8.1" fill="#7fc97f" fill-opacity="0.82"/>
<circle cx="1521.0" cy="477.3" r="7.5" fill="#7fc97f" fill-opacity="0.82"/>
<circle cx="1721.0" cy="472.2" r="6.7" fill="#7fc97f" fill-opacity="0.82"/>
<circle cx="1542.8" cy="482.4" r="9.0" fill="#7fc97f" fill-opacity="0.82"/>
<circle cx="1557.6" cy="486.0" r="6.7" fill="#7fc97f" fill-opacity="0.82"/>
<circle cx="1544.0" cy="494.6" r="7.7" fill="#7fc97f" fill-opacity="0.82"/>
<circle cx="1651.2" cy="491.9" r="9.2" fill="#7fc97f" fill-opacity="0.82"/>
<circle cx="1659.8" cy="502.3" r="8.1" fill="#7fc97f" fill-opacity="0.82"/>
<circle cx="1482.4" cy="503.3" r="6.7" fill="#7fc97f" fill-opacity="0.82"/>
<circle cx="1780.4" cy="509.2" r="9.4" fill="#7fc97f" fill-opacity="0.82"/>
<circle cx="1743.8" cy="513.3" r="7.7" fill="#7fc97f" fill-opacity="0.82"/>
<circle cx="1692.9" cy="523.5" r="9.4" fill="#7fc97f" fill-opacity="0.82"/>
<circle cx="1723.8" cy="521.0" r="8.1" fill="#7fc97f" fill-opacity="0.82"/>
<circle cx="1728.5" cy="520.6" r="6.1" fill="#7fc97f" fill-opacity="0.82"/>
<circle cx="1578.4" cy="522.7" r="8.1" fill="#7fc97f" fill-opacity="0.82"/>
<circle cx="1570.9" cy="533.2" r="7.7" fill="#7fc97f" fill-opacity="0.82"/>
<circle cx="1528.8" cy="530.2" r="6.7" fill="#7fc97f" fill-opacity="0.82"/>
<circle cx="1604.0" cy="534.3" r="7.7" fill="#7fc97f" fill-opacity="0.82"/>
<circle cx="1473.8" cy="532.2" r="7.7" fill="#7fc97f" fill-opacity="0.82"/>
<circle cx="1539.9" cy="542.0" r="8.1" fill="#7fc97f" fill-opacity="0.82"/>
<circle cx="1756.0" cy="540.0" r="8.1" fill="#7fc97f" fill-opacity="0.82"/>
<circle cx="1763.1" cy="536.7" r="7.7" fill="#7fc97f" fill-opacity="0.82"/>
<circle cx="1593.2" cy="547.5" r="8.1" fill="#7fc97f" fill-opacity="0.82"/>
<circle cx="1595.3" cy="549.5" r="9.2" fill="#7fc97f" fill-opacity="0.82"/>
<circle cx="1594.3" cy="561.7" r="7.1" fill="#7fc97f" fill-opacity="0.82"/>
<circle cx="1731.6" cy="551.5" r="6.7" fill="#7fc97f" fill-opacity="0.82"/>
<circle cx="1740.7" cy="554.6" r="7.1" fill="#7fc97f" fill-opacity="0.82"/>
<circle cx="1746.8" cy="557.7" r="6.7" fill="#7fc97f" fill-opacity="0.82"/>
<circle cx="1752.9" cy="559.7" r="6.1" fill="#7fc97f" fill-opacity="0.82"/>
<circle cx="1625.8" cy="567.8" r="9.4" fill="#7fc97f" fill-opacity="0.82"/>
<circle cx="1703.5" cy="567.8" r="9.6" fill="#7fc97f" fill-opacity="0.82"/>
<circle cx="1779.4" cy="562.7" r="8.1" fill="#7fc97f" fill-opacity="0.82"/>
<circle cx="1730.5" cy="565.8" r="6.7" fill="#7fc97f" fill-opacity="0.82"/>
<circle cx="1732.6" cy="573.9" r="7.1" fill="#7fc97f" fill-opacity="0.82"/>
<circle cx="1624.8" cy="577.0" r="7.7" fill="#7fc97f" fill-opacity="0.82"/>
<circle cx="1748.9" cy="577.0" r="8.1" fill="#7fc97f" fill-opacity="0.82"/>
<circle cx="1570.9" cy="580.0" r="7.1" fill="#7fc97f" fill-opacity="0.82"/>
<circle cx="1783.8" cy="585.5" r="8.1" fill="#7fc97f" fill-opacity="0.82"/>
<circle cx="1637.6" cy="584.7" r="8.1" fill="#7fc97f" fill-opacity="0.82"/>
<circle cx="1573.3" cy="587.1" r="8.5" fill="#7fc97f" fill-opacity="0.82"/>
<circle cx="1501.1" cy="585.5" r="8.5" fill="#7fc97f" fill-opacity="0.82"/>
<circle cx="1740.7" cy="587.1" r="7.1" fill="#7fc97f" fill-opacity="0.82"/>
<circle cx="1756.0" cy="591.8" r="8.1" fill="#7fc97f" fill-opacity="0.82"/>
<circle cx="1695.6" cy="590.6" r="8.5" fill="#7fc97f" fill-opacity="0.82"/>
<circle cx="1611.5" cy="592.6" r="8.5" fill="#7fc97f" fill-opacity="0.82"/>
<circle cx="1621.7" cy="592.2" r="9.2" fill="#7fc97f" fill-opacity="0.82"/>
<circle cx="1564.4" cy="597.7" r="7.1" fill="#7fc97f" fill-opacity="0.82"/>
<circle cx="1500.7" cy="604.0" r="8.5" fill="#7fc97f" fill-opacity="0.82"/>
<circle cx="1541.4" cy="603.0" r="7.1" fill="#7fc97f" fill-opacity="0.82"/>
<circle cx="1738.7" cy="609.5" r="7.5" fill="#7fc97f" fill-opacity="0.82"/>
<circle cx="1554.2" cy="616.0" r="7.1" fill="#7fc97f" fill-opacity="0.82"/>
<circle cx="1656.3" cy="616.6" r="7.1" fill="#7fc97f" fill-opacity="0.82"/>
<circle cx="1757.6" cy="619.7" r="6.7" fill="#7fc97f" fill-opacity="0.82"/>
<circle cx="1782.0" cy="623.8" r="8.1" fill="#7fc97f" fill-opacity="0.82"/>
<circle cx="1577.0" cy="624.8" r="8.1" fill="#7fc97f" fill-opacity="0.82"/>
<circle cx="1592.2" cy="628.8" r="6.7" fill="#7fc97f" fill-opacity="0.82"/>
<circle cx="1600.4" cy="631.9" r="7.1" fill="#7fc97f" fill-opacity="0.82"/>
<circle cx="1608.5" cy="633.9" r="7.7" fill="#7fc97f" fill-opacity="0.82"/>
<circle cx="1707.6" cy="632.5" r="7.1" fill="#7fc97f" fill-opacity="0.82"/>
<circle cx="1748.9" cy="633.9" r="8.5" fill="#7fc97f" fill-opacity="0.82"/>
<circle cx="1760.0" cy="633.9" r="6.7" fill="#7fc97f" fill-opacity="0.82"/>
<circle cx="1531.6" cy="635.0" r="8.1" fill="#7fc97f" fill-opacity="0.82"/>
<circle cx="1475.7" cy="643.1" r="7.1" fill="#7fc97f" fill-opacity="0.82"/>
<circle cx="1651.2" cy="642.1" r="7.1" fill="#7fc97f" fill-opacity="0.82"/>
<circle cx="1541.4" cy="643.1" r="6.1" fill="#7fc97f" fill-opacity="0.82"/>
<circle cx="1569.8" cy="642.1" r="5.7" fill="#7fc97f" fill-opacity="0.82"/>
<circle cx="1582.1" cy="641.1" r="8.1" fill="#7fc97f" fill-opacity="0.82"/>
<circle cx="1782.4" cy="643.1" r="8.1" fill="#7fc97f" fill-opacity="0.82"/>
<circle cx="1751.9" cy="645.1" r="7.1" fill="#7fc97f" fill-opacity="0.82"/>
<circle cx="1580.0" cy="651.2" r="8.1" fill="#7fc97f" fill-opacity="0.82"/>
<circle cx="1605.4" cy="649.2" r="6.7" fill="#7fc97f" fill-opacity="0.82"/>
<circle cx="1617.7" cy="652.2" r="8.1" fill="#7fc97f" fill-opacity="0.82"/>
<circle cx="1634.9" cy="651.2" r="8.1" fill="#7fc97f" fill-opacity="0.82"/>
<circle cx="1650.2" cy="652.2" r="6.7" fill="#7fc97f" fill-opacity="0.82"/>
<circle cx="1693.9" cy="656.3" r="9.2" fill="#7fc97f" fill-opacity="0.82"/>
<circle cx="1778.4" cy="654.3" r="7.7" fill="#7fc97f" fill-opacity="0.82"/>
<circle cx="1759.0" cy="654.3" r="6.7" fill="#7fc97f" fill-opacity="0.82"/>
<circle cx="1527.1" cy="659.4" r="8.1" fill="#7fc97f" fill-opacity="0.82"/>
<circle cx="1557.6" cy="656.3" r="6.7" fill="#7fc97f" fill-opacity="0.82"/>
<circle cx="1560.7" cy="660.4" r="8.5" fill="#7fc97f" fill-opacity="0.82"/>
<circle cx="1531.6" cy="664.4" r="8.1" fill="#7fc97f" fill-opacity="0.82"/>
<circle cx="1656.3" cy="660.4" r="7.1" fill="#7fc97f" fill-opacity="0.82"/>
<circle cx="1478.3" cy="661.4" r="7.1" fill="#7fc97f" fill-opacity="0.82"/>
<circle cx="1723.8" cy="662.4" r="7.1" fill="#7fc97f" fill-opacity="0.82"/>
<circle cx="1676.6" cy="667.5" r="7.7" fill="#7fc97f" fill-opacity="0.82"/>
<circle cx="1693.9" cy="668.5" r="9.8" fill="#7fc97f" fill-opacity="0.82"/>
<circle cx="1761.1" cy="665.5" r="8.1" fill="#7fc97f" fill-opacity="0.82"/>
<circle cx="1775.3" cy="664.4" r="6.7" fill="#7fc97f" fill-opacity="0.82"/>
<circle cx="1599.3" cy="670.5" r="7.1" fill="#7fc97f" fill-opacity="0.82"/>
<circle cx="1641.0" cy="670.5" r="8.5" fill="#7fc97f" fill-opacity="0.82"/>
<circle cx="1647.1" cy="674.6" r="9.2" fill="#7fc97f" fill-opacity="0.82"/>
<circle cx="1730.5" cy="672.6" r="7.1" fill="#7fc97f" fill-opacity="0.82"/>
<circle cx="1715.3" cy="677.7" r="8.1" fill="#7fc97f" fill-opacity="0.82"/>
<circle cx="1681.7" cy="682.8" r="9.2" fill="#7fc97f" fill-opacity="0.82"/>
<circle cx="1557.0" cy="682.8" r="5.7" fill="#7fc97f" fill-opacity="0.82"/>
<circle cx="1610.5" cy="684.8" r="5.1" fill="#7fc97f" fill-opacity="0.82"/>
<circle cx="1781.4" cy="684.8" r="7.1" fill="#7fc97f" fill-opacity="0.82"/>
<circle cx="1490.5" cy="697.0" r="7.1" fill="#7fc97f" fill-opacity="0.82"/>
<circle cx="1523.7" cy="709.2" r="5.7" fill="#7fc97f" fill-opacity="0.82"/>
<circle cx="1521.0" cy="720.4" r="8.5" fill="#7fc97f" fill-opacity="0.82"/>
<circle cx="1522.4" cy="733.6" r="8.1" fill="#7fc97f" fill-opacity="0.82"/>
<circle cx="1550.9" cy="740.7" r="5.5" fill="#7fc97f" fill-opacity="0.82"/>
<circle cx="1559.7" cy="694.9" r="8.1" fill="#7fc97f" fill-opacity="0.82"/>
<circle cx="1569.8" cy="693.9" r="6.1" fill="#7fc97f" fill-opacity="0.82"/>
<circle cx="1555.6" cy="701.0" r="6.1" fill="#7fc97f" fill-opacity="0.82"/>
<circle cx="1560.7" cy="720.4" r="7.1" fill="#7fc97f" fill-opacity="0.82"/>
<circle cx="1555.6" cy="725.4" r="6.1" fill="#7fc97f" fill-opacity="0.82"/>
<circle cx="1578.0" cy="723.4" r="7.1" fill="#7fc97f" fill-opacity="0.82"/>
<circle cx="1572.9" cy="740.7" r="8.1" fill="#7fc97f" fill-opacity="0.82"/>
<circle cx="1583.1" cy="752.9" r="7.1" fill="#7fc97f" fill-opacity="0.82"/>
<circle cx="1594.3" cy="763.1" r="7.7" fill="#7fc97f" fill-opacity="0.82"/>
<circle cx="1546.5" cy="767.1" r="5.7" fill="#7fc97f" fill-opacity="0.82"/>
<circle cx="1553.6" cy="774.3" r="7.1" fill="#7fc97f" fill-opacity="0.82"/>
<circle cx="1566.8" cy="779.3" r="6.1" fill="#7fc97f" fill-opacity="0.82"/>
<circle cx="1540.4" cy="783.4" r="8.1" fill="#7fc97f" fill-opacity="0.82"/>
<circle cx="1580.0" cy="789.5" r="7.7" fill="#7fc97f" fill-opacity="0.82"/>
<circle cx="1572.9" cy="800.7" r="6.1" fill="#7fc97f" fill-opacity="0.82"/>
<circle cx="1562.7" cy="807.8" r="7.1" fill="#7fc97f" fill-opacity="0.82"/>
<circle cx="1483.4" cy="817.0" r="5.1" fill="#7fc97f" fill-opacity="0.82"/>
<circle cx="1462.0" cy="790.9" r="4.1" fill="#7fc97f" fill-opacity="0.82"/>
<circle cx="1608.5" cy="693.9" r="9.2" fill="#7fc97f" fill-opacity="0.82"/>
<circle cx="1609.5" cy="686.8" r="7.1" fill="#7fc97f" fill-opacity="0.82"/>
<circle cx="1598.3" cy="715.3" r="8.1" fill="#7fc97f" fill-opacity="0.82"/>
<circle cx="1605.4" cy="718.3" r="7.1" fill="#7fc97f" fill-opacity="0.82"/>
<circle cx="1622.7" cy="714.2" r="7.1" fill="#7fc97f" fill-opacity="0.82"/>
<circle cx="1605.4" cy="745.8" r="7.1" fill="#7fc97f" fill-opacity="0.82"/>
<circle cx="1616.6" cy="742.7" r="5.1" fill="#7fc97f" fill-opacity="0.82"/>
<circle cx="1622.7" cy="745.8" r="6.1" fill="#7fc97f" fill-opacity="0.82"/>
<circle cx="1626.8" cy="737.6" r="6.1" fill="#7fc97f" fill-opacity="0.82"/>
<circle cx="1612.6" cy="755.9" r="7.1" fill="#7fc97f" fill-opacity="0.82"/>
<circle cx="1620.7" cy="762.1" r="6.7" fill="#7fc97f" fill-opacity="0.82"/>
<circle cx="1600.4" cy="782.4" r="5.7" fill="#7fc97f" fill-opacity="0.82"/>
<circle cx="1605.4" cy="790.5" r="7.1" fill="#7fc97f" fill-opacity="0.82"/>
<circle cx="1607.5" cy="807.8" r="5.7" fill="#7fc97f" fill-opacity="0.82"/>
<circle cx="1610.5" cy="818.6" r="5.1" fill="#7fc97f" fill-opacity="0.82"/>
<circle cx="1590.8" cy="815.3" r="6.7" fill="#7fc97f" fill-opacity="0.82"/>
<circle cx="1612.6" cy="831.2" r="5.1" fill="#7fc97f" fill-opacity="0.82"/>
<circle cx="1601.0" cy="842.8" r="6.7" fill="#7fc97f" fill-opacity="0.82"/>
<circle cx="1628.8" cy="808.8" r="9.2" fill="#7fc97f" fill-opacity="0.82"/>
<circle cx="1636.0" cy="701.0" r="7.7" fill="#7fc97f" fill-opacity="0.82"/>
<circle cx="1647.1" cy="705.1" r="9.2" fill="#7fc97f" fill-opacity="0.82"/>
<circle cx="1638.0" cy="718.3" r="7.7" fill="#7fc97f" fill-opacity="0.82"/>
<circle cx="1646.1" cy="729.5" r="7.1" fill="#7fc97f" fill-opacity="0.82"/>
<circle cx="1639.0" cy="739.7" r="7.7" fill="#7fc97f" fill-opacity="0.82"/>
<circle cx="1649.2" cy="740.7" r="8.1" fill="#7fc97f" fill-opacity="0.82"/>
<circle cx="1661.4" cy="737.6" r="7.1" fill="#7fc97f" fill-opacity="0.82"/>
<circle cx="1663.4" cy="745.8" r="7.1" fill="#7fc97f" fill-opacity="0.82"/>
<circle cx="1669.5" cy="755.9" r="9.2" fill="#7fc97f" fill-opacity="0.82"/>
<circle cx="1637.0" cy="768.2" r="9.2" fill="#7fc97f" fill-opacity="0.82"/>
<circle cx="1655.3" cy="768.2" r="5.1" fill="#7fc97f" fill-opacity="0.82"/>
<circle cx="1663.4" cy="780.4" r="8.1" fill="#7fc97f" fill-opacity="0.82"/>
<circle cx="1650.2" cy="786.5" r="9.2" fill="#7fc97f" fill-opacity="0.82"/>
<circle cx="1652.2" cy="802.7" r="7.7" fill="#7fc97f" fill-opacity="0.82"/>
<circle cx="1667.5" cy="800.7" r="7.1" fill="#7fc97f" fill-opacity="0.82"/>
<circle cx="1670.5" cy="794.6" r="6.1" fill="#7fc97f" fill-opacity="0.82"/>
<circle cx="1661.4" cy="814.9" r="7.1" fill="#7fc97f" fill-opacity="0.82"/>
<circle cx="1676.6" cy="817.0" r="7.1" fill="#7fc97f" fill-opacity="0.82"/>
<circle cx="1653.9" cy="829.2" r="5.1" fill="#7fc97f" fill-opacity="0.82"/>
<circle cx="1676.6" cy="699.0" r="6.1" fill="#7fc97f" fill-opacity="0.82"/>
<circle cx="1683.8" cy="707.1" r="8.1" fill="#7fc97f" fill-opacity="0.82"/>
<circle cx="1676.6" cy="730.5" r="8.1" fill="#7fc97f" fill-opacity="0.82"/>
<circle cx="1689.9" cy="729.5" r="7.1" fill="#7fc97f" fill-opacity="0.82"/>
<circle cx="1699.0" cy="693.9" r="7.7" fill="#7fc97f" fill-opacity="0.82"/>
<circle cx="1706.1" cy="707.1" r="8.1" fill="#7fc97f" fill-opacity="0.82"/>
<circle cx="1707.2" cy="720.4" r="7.1" fill="#7fc97f" fill-opacity="0.82"/>
<circle cx="1696.0" cy="739.7" r="8.1" fill="#7fc97f" fill-opacity="0.82"/>
<circle cx="1689.9" cy="743.7" r="8.1" fill="#7fc97f" fill-opacity="0.82"/>
<circle cx="1702.1" cy="768.2" r="8.5" fill="#7fc97f" fill-opacity="0.82"/>
<circle cx="1691.9" cy="782.4" r="6.1" fill="#7fc97f" fill-opacity="0.82"/>
<circle cx="1684.8" cy="790.5" r="7.1" fill="#7fc97f" fill-opacity="0.82"/>
<circle cx="1709.2" cy="788.5" r="7.1" fill="#7fc97f" fill-opacity="0.82"/>
<circle cx="1713.3" cy="804.8" r="8.5" fill="#7fc97f" fill-opacity="0.82"/>
<circle cx="1693.9" cy="831.2" r="6.1" fill="#7fc97f" fill-opacity="0.82"/>
<circle cx="1687.8" cy="832.2" r="5.1" fill="#7fc97f" fill-opacity="0.82"/>
<circle cx="1718.3" cy="840.4" r="6.7" fill="#7fc97f" fill-opacity="0.82"/>
<circle cx="1724.4" cy="707.1" r="8.1" fill="#7fc97f" fill-opacity="0.82"/>
<circle cx="1714.3" cy="739.7" r="7.1" fill="#7fc97f" fill-opacity="0.82"/>
<circle cx="1724.4" cy="735.6" r="7.1" fill="#7fc97f" fill-opacity="0.82"/>
<circle cx="1728.5" cy="755.9" r="9.2" fill="#7fc97f" fill-opacity="0.82"/>
<circle cx="1720.4" cy="770.2" r="7.1" fill="#7fc97f" fill-opacity="0.82"/>
<circle cx="1736.7" cy="772.2" r="7.1" fill="#7fc97f" fill-opacity="0.82"/>
<circle cx="1744.8" cy="780.4" r="7.1" fill="#7fc97f" fill-opacity="0.82"/>
<circle cx="1742.8" cy="812.9" r="6.1" fill="#7fc97f" fill-opacity="0.82"/>
<circle cx="1742.8" cy="817.0" r="6.1" fill="#7fc97f" fill-opacity="0.82"/>
<circle cx="1742.8" cy="689.8" r="6.1" fill="#7fc97f" fill-opacity="0.82"/>
<circle cx="1750.9" cy="692.9" r="6.1" fill="#7fc97f" fill-opacity="0.82"/>
<circle cx="1761.1" cy="725.4" r="7.1" fill="#7fc97f" fill-opacity="0.82"/>
<circle cx="1779.4" cy="729.5" r="8.1" fill="#7fc97f" fill-opacity="0.82"/>
<circle cx="1765.1" cy="745.8" r="8.5" fill="#7fc97f" fill-opacity="0.82"/>
<circle cx="1775.3" cy="753.9" r="9.2" fill="#7fc97f" fill-opacity="0.82"/>
<circle cx="1748.9" cy="745.8" r="6.1" fill="#7fc97f" fill-opacity="0.82"/>
<circle cx="1742.8" cy="755.9" r="7.1" fill="#7fc97f" fill-opacity="0.82"/>
<circle cx="1805.8" cy="753.9" r="9.2" fill="#7fc97f" fill-opacity="0.82"/>
<circle cx="1814.0" cy="760.0" r="7.1" fill="#7fc97f" fill-opacity="0.82"/>
<circle cx="1795.6" cy="758.0" r="7.1" fill="#7fc97f" fill-opacity="0.82"/>
<circle cx="1785.5" cy="770.2" r="7.7" fill="#7fc97f" fill-opacity="0.82"/>
<circle cx="1765.1" cy="768.2" r="7.1" fill="#7fc97f" fill-opacity="0.82"/>
<circle cx="1767.2" cy="790.5" r="9.2" fill="#7fc97f" fill-opacity="0.82"/>
<circle cx="1783.4" cy="784.4" r="6.7" fill="#7fc97f" fill-opacity="0.82"/>
<circle cx="1781.4" cy="802.7" r="7.7" fill="#7fc97f" fill-opacity="0.82"/>
<circle cx="1798.7" cy="800.7" r="7.7" fill="#7fc97f" fill-opacity="0.82"/>
<circle cx="1810.9" cy="723.4" r="7.7" fill="#7fc97f" fill-opacity="0.82"/>
<circle cx="1828.2" cy="715.3" r="8.5" fill="#7fc97f" fill-opacity="0.82"/>
<circle cx="1825.1" cy="780.4" r="8.5" fill="#7fc97f" fill-opacity="0.82"/>
<circle cx="1833.3" cy="801.7" r="8.5" fill="#7fc97f" fill-opacity="0.82"/>
<circle cx="1827.2" cy="835.3" r="8.1" fill="#7fc97f" fill-opacity="0.82"/>
<circle cx="1827.2" cy="850.5" r="7.1" fill="#7fc97f" fill-opacity="0.82"/>
<circle cx="1820.1" cy="855.6" r="7.1" fill="#7fc97f" fill-opacity="0.82"/>
<circle cx="1803.2" cy="858.1" r="6.7" fill="#7fc97f" fill-opacity="0.82"/>
<circle cx="1771.2" cy="856.6" r="6.7" fill="#7fc97f" fill-opacity="0.82"/>
<circle cx="1755.6" cy="847.5" r="6.7" fill="#7fc97f" fill-opacity="0.82"/>
<circle cx="1864.8" cy="832.2" r="8.1" fill="#7fc97f" fill-opacity="0.82"/>
<circle cx="1882.7" cy="814.5" r="8.1" fill="#7fc97f" fill-opacity="0.82"/>
<circle cx="1874.0" cy="779.3" r="7.7" fill="#7fc97f" fill-opacity="0.82"/>
<circle cx="1883.1" cy="785.4" r="8.1" fill="#7fc97f" fill-opacity="0.82"/>
<circle cx="1895.3" cy="782.4" r="8.1" fill="#7fc97f" fill-opacity="0.82"/>
<circle cx="1897.4" cy="790.5" r="7.1" fill="#7fc97f" fill-opacity="0.82"/>
<circle cx="1899.4" cy="802.7" r="6.1" fill="#7fc97f" fill-opacity="0.82"/>
<circle cx="1688.8" cy="867.8" r="5.1" fill="#7fc97f" fill-opacity="0.82"/>
<circle cx="1701.1" cy="875.0" r="6.7" fill="#7fc97f" fill-opacity="0.82"/>
<circle cx="1684.4" cy="895.9" r="6.7" fill="#7fc97f" fill-opacity="0.82"/>
<circle cx="1564.2" cy="923.8" r="5.1" fill="#7fc97f" fill-opacity="0.82"/>
<circle cx="1780.4" cy="683.7" r="7.7" fill="#7fc97f" fill-opacity="0.82"/>
<circle cx="1793.6" cy="692.9" r="7.7" fill="#7fc97f" fill-opacity="0.82"/>
<circle cx="1801.7" cy="698.0" r="6.1" fill="#7fc97f" fill-opacity="0.82"/>
<circle cx="1769.2" cy="709.2" r="8.1" fill="#7fc97f" fill-opacity="0.82"/>
<circle cx="1783.4" cy="717.3" r="6.1" fill="#7fc97f" fill-opacity="0.82"/>
<circle cx="1752.9" cy="720.4" r="8.1" fill="#7fc97f" fill-opacity="0.82"/>
<circle cx="1902.8" cy="788.8" r="7.4" fill="#7fc97f" fill-opacity="0.82"/>
<circle cx="1916.3" cy="798.0" r="8.0" fill="#7fc97f" fill-opacity="0.82"/>
<circle cx="1940.8" cy="788.4" r="8.0" fill="#7fc97f" fill-opacity="0.82"/>
<circle cx="1957.4" cy="847.0" r="8.0" fill="#7fc97f" fill-opacity="0.82"/>
<circle cx="1980.5" cy="847.0" r="9.2" fill="#7fc97f" fill-opacity="0.82"/>
<circle cx="1970.7" cy="863.7" r="8.9" fill="#7fc97f" fill-opacity="0.82"/>
<circle cx="1986.1" cy="868.3" r="7.8" fill="#7fc97f" fill-opacity="0.82"/>
<circle cx="2020.6" cy="860.9" r="8.0" fill="#7fc97f" fill-opacity="0.82"/>
<circle cx="2132.2" cy="866.4" r="9.2" fill="#7fc97f" fill-opacity="0.82"/>
<circle cx="2156.2" cy="870.1" r="8.9" fill="#7fc97f" fill-opacity="0.82"/>
<circle cx="1625.4" cy="734.7" r="5.7" fill="#7fc97f" fill-opacity="0.82"/>
<circle cx="1657.2" cy="741.6" r="6.6" fill="#7fc97f" fill-opacity="0.82"/>
<circle cx="1600.6" cy="771.1" r="5.9" fill="#7fc97f" fill-opacity="0.82"/>
<circle cx="1692.6" cy="789.1" r="7.9" fill="#7fc97f" fill-opacity="0.82"/>
<circle cx="1625.1" cy="726.1" r="7.9" fill="#7fc97f" fill-opacity="0.82"/>
<circle cx="1761.9" cy="761.4" r="6.3" fill="#7fc97f" fill-opacity="0.82"/>
<circle cx="1654.2" cy="800.4" r="6.0" fill="#7fc97f" fill-opacity="0.82"/>
<circle cx="1606.8" cy="718.2" r="6.5" fill="#7fc97f" fill-opacity="0.82"/>
<circle cx="1653.3" cy="738.4" r="5.7" fill="#7fc97f" fill-opacity="0.82"/>
<circle cx="1701.3" cy="791.4" r="6.6" fill="#7fc97f" fill-opacity="0.82"/>
<circle cx="1656.4" cy="783.5" r="6.7" fill="#7fc97f" fill-opacity="0.82"/>
<circle cx="1659.2" cy="799.5" r="7.3" fill="#7fc97f" fill-opacity="0.82"/>
<circle cx="1683.3" cy="786.4" r="6.9" fill="#7fc97f" fill-opacity="0.82"/>
<circle cx="1712.9" cy="703.2" r="6.3" fill="#7fc97f" fill-opacity="0.82"/>
<circle cx="1692.4" cy="739.9" r="6.6" fill="#7fc97f" fill-opacity="0.82"/>
<circle cx="1657.2" cy="742.7" r="7.2" fill="#7fc97f" fill-opacity="0.82"/>
<circle cx="1664.4" cy="697.8" r="7.7" fill="#7fc97f" fill-opacity="0.82"/>
<circle cx="1654.4" cy="790.3" r="7.0" fill="#7fc97f" fill-opacity="0.82"/>
<circle cx="1621.0" cy="723.9" r="7.6" fill="#7fc97f" fill-opacity="0.82"/>
<circle cx="1715.7" cy="728.9" r="7.2" fill="#7fc97f" fill-opacity="0.82"/>
<circle cx="1741.3" cy="761.7" r="7.2" fill="#7fc97f" fill-opacity="0.82"/>
<circle cx="1754.7" cy="739.3" r="6.3" fill="#7fc97f" fill-opacity="0.82"/>
<circle cx="1626.8" cy="775.2" r="5.7" fill="#7fc97f" fill-opacity="0.82"/>
<circle cx="1618.2" cy="755.5" r="7.7" fill="#7fc97f" fill-opacity="0.82"/>
<circle cx="1693.4" cy="680.4" r="6.3" fill="#7fc97f" fill-opacity="0.82"/>
<circle cx="1742.2" cy="685.1" r="6.0" fill="#7fc97f" fill-opacity="0.82"/>
<circle cx="1685.3" cy="781.0" r="7.0" fill="#7fc97f" fill-opacity="0.82"/>
<circle cx="1557.4" cy="707.9" r="7.3" fill="#7fc97f" fill-opacity="0.82"/>
<circle cx="1605.4" cy="737.4" r="7.2" fill="#7fc97f" fill-opacity="0.82"/>
<circle cx="1769.1" cy="766.3" r="7.5" fill="#7fc97f" fill-opacity="0.82"/>
<circle cx="1717.2" cy="698.9" r="6.5" fill="#7fc97f" fill-opacity="0.82"/>
<circle cx="1701.1" cy="751.6" r="6.0" fill="#7fc97f" fill-opacity="0.82"/>
<circle cx="1696.4" cy="742.0" r="5.8" fill="#7fc97f" fill-opacity="0.82"/>
<circle cx="1706.4" cy="708.7" r="6.0" fill="#7fc97f" fill-opacity="0.82"/>
<circle cx="1620.4" cy="750.3" r="5.8" fill="#7fc97f" fill-opacity="0.82"/>
<circle cx="1708.4" cy="760.7" r="6.2" fill="#7fc97f" fill-opacity="0.82"/>
<circle cx="1784.8" cy="754.1" r="6.9" fill="#7fc97f" fill-opacity="0.82"/>
<circle cx="1713.3" cy="775.9" r="5.7" fill="#7fc97f" fill-opacity="0.82"/>
<circle cx="1706.5" cy="702.3" r="6.2" fill="#7fc97f" fill-opacity="0.82"/>
<circle cx="1667.4" cy="700.5" r="7.5" fill="#7fc97f" fill-opacity="0.82"/>
<circle cx="1707.8" cy="692.8" r="7.6" fill="#7fc97f" fill-opacity="0.82"/>
<circle cx="1626.3" cy="738.5" r="5.7" fill="#7fc97f" fill-opacity="0.82"/>
<circle cx="1707.9" cy="746.8" r="6.2" fill="#7fc97f" fill-opacity="0.82"/>
<circle cx="1609.4" cy="662.4" r="6.7" fill="#7fc97f" fill-opacity="0.82"/>
<circle cx="1709.8" cy="733.0" r="6.1" fill="#7fc97f" fill-opacity="0.82"/>
<circle cx="1699.6" cy="787.6" r="7.8" fill="#7fc97f" fill-opacity="0.82"/>
<circle cx="1690.1" cy="709.3" r="7.2" fill="#7fc97f" fill-opacity="0.82"/>
<circle cx="1600.5" cy="678.9" r="7.5" fill="#7fc97f" fill-opacity="0.82"/>
<circle cx="1660.4" cy="703.2" r="6.0" fill="#7fc97f" fill-opacity="0.82"/>
<circle cx="1735.3" cy="724.1" r="6.0" fill="#7fc97f" fill-opacity="0.82"/>
<circle cx="1730.2" cy="707.3" r="6.0" fill="#7fc97f" fill-opacity="0.82"/>
<circle cx="1708.5" cy="657.5" r="7.2" fill="#7fc97f" fill-opacity="0.82"/>
<circle cx="1644.4" cy="776.6" r="5.9" fill="#7fc97f" fill-opacity="0.82"/>
<circle cx="1628.4" cy="708.4" r="7.8" fill="#7fc97f" fill-opacity="0.82"/>
<circle cx="1591.7" cy="769.8" r="7.6" fill="#7fc97f" fill-opacity="0.82"/>
<circle cx="1636.1" cy="728.4" r="6.6" fill="#7fc97f" fill-opacity="0.82"/>
<circle cx="1752.3" cy="796.7" r="6.4" fill="#7fc97f" fill-opacity="0.82"/>
<circle cx="1614.1" cy="753.7" r="7.8" fill="#7fc97f" fill-opacity="0.82"/>
<circle cx="1588.8" cy="778.3" r="6.8" fill="#7fc97f" fill-opacity="0.82"/>
<circle cx="1613.0" cy="733.8" r="5.6" fill="#7fc97f" fill-opacity="0.82"/>
<circle cx="1752.8" cy="743.5" r="6.0" fill="#7fc97f" fill-opacity="0.82"/>
<circle cx="1599.4" cy="751.1" r="6.9" fill="#7fc97f" fill-opacity="0.82"/>
<circle cx="1653.6" cy="778.5" r="6.9" fill="#7fc97f" fill-opacity="0.82"/>
<circle cx="1635.3" cy="732.5" r="6.3" fill="#7fc97f" fill-opacity="0.82"/>
<circle cx="1667.6" cy="701.9" r="6.9" fill="#7fc97f" fill-opacity="0.82"/>
<circle cx="1657.6" cy="667.1" r="6.7" fill="#7fc97f" fill-opacity="0.82"/>
<circle cx="1621.9" cy="715.8" r="6.8" fill="#7fc97f" fill-opacity="0.82"/>
<circle cx="1643.5" cy="707.1" r="6.9" fill="#7fc97f" fill-opacity="0.82"/>
<circle cx="1564.2" cy="753.1" r="7.3" fill="#7fc97f" fill-opacity="0.82"/>
<circle cx="1734.2" cy="685.2" r="6.2" fill="#7fc97f" fill-opacity="0.82"/>
<circle cx="1560.0" cy="712.2" r="7.6" fill="#7fc97f" fill-opacity="0.82"/>
<circle cx="1618.0" cy="689.9" r="7.8" fill="#7fc97f" fill-opacity="0.82"/>
<circle cx="1722.4" cy="786.5" r="7.2" fill="#7fc97f" fill-opacity="0.82"/>
<circle cx="1743.1" cy="797.1" r="7.9" fill="#7fc97f" fill-opacity="0.82"/>
<circle cx="1712.2" cy="824.4" r="6.6" fill="#7fc97f" fill-opacity="0.82"/>
</g>
<line x1="1329.3" x2="2166.0" y1="871.5" y2="871.5" stroke="#000" stroke-width="2.8"/>
<line x1="1329.3" x2="2166.0" y1="977.6" y2="977.6" stroke="#000" stroke-width="2.8"/>
<line x1="1329.3" x2="2166.0" y1="1007.2" y2="1007.2" stroke="#000" stroke-width="2.8"/>
<text x="1237.5" y="233.0" font-size="26.35" text-anchor="end" fill="#000" fill-opacity="0.27">Nuclear National (IQR)</text>
<text x="1237.5" y="854.0" font-size="26.35" text-anchor="end" fill="#000" fill-opacity="0.40">Wind National (IQR)</text>
<text x="1237.5" y="964.3" font-size="26.35" text-anchor="end" fill="#000" fill-opacity="0.45">Solar National (IQR)</text>
<text x="423" y="898.5" font-size="26.6" fill="#000">Nuclear Global G</text>
<text x="424" y="964.7" font-size="26.6" fill="#000">Wind Global G</text>
<text x="423.5" y="1035.8" font-size="26.6" fill="#000">Solar Global R3</text>
<rect x="413.0" y="47.0" width="836.0" height="1033.0" fill="none" stroke="#333" stroke-width="2.5"/>
<line x1="405.2" x2="413.0" y1="933.0" y2="933.0" stroke="#333" stroke-width="2.8"/>
<text x="398.5" y="942.4" font-size="26.6" text-anchor="end" fill="#4d4d4d">1</text>
<line x1="405.2" x2="413.0" y1="785.2" y2="785.2" stroke="#333" stroke-width="2.8"/>
<text x="398.5" y="794.6" font-size="26.6" text-anchor="end" fill="#4d4d4d">2</text>
<line x1="405.2" x2="413.0" y1="637.4" y2="637.4" stroke="#333" stroke-width="2.8"/>
<text x="398.5" y="646.8" font-size="26.6" text-anchor="end" fill="#4d4d4d">3</text>
<line x1="405.2" x2="413.0" y1="489.6" y2="489.6" stroke="#333" stroke-width="2.8"/>
<text x="398.5" y="499.0" font-size="26.6" text-anchor="end" fill="#4d4d4d">4</text>
<line x1="405.2" x2="413.0" y1="341.8" y2="341.8" stroke="#333" stroke-width="2.8"/>
<text x="398.5" y="351.2" font-size="26.6" text-anchor="end" fill="#4d4d4d">5</text>
<line x1="405.2" x2="413.0" y1="194.0" y2="194.0" stroke="#333" stroke-width="2.8"/>
<text x="398.5" y="203.4" font-size="26.6" text-anchor="end" fill="#4d4d4d">6</text>
<line x1="472.0" x2="472.0" y1="1080.0" y2="1088.3" stroke="#333" stroke-width="2.8"/>
<text x="472.0" y="1114.2" font-size="26.6" text-anchor="middle" fill="#4d4d4d">2030</text>
<line x1="591.7" x2="591.7" y1="1080.0" y2="1088.3" stroke="#333" stroke-width="2.8"/>
<text x="591.7" y="1114.2" font-size="26.6" text-anchor="middle" fill="#4d4d4d">2040</text>
<line x1="711.3" x2="711.3" y1="1080.0" y2="1088.3" stroke="#333" stroke-width="2.8"/>
<text x="711.3" y="1114.2" font-size="26.6" text-anchor="middle" fill="#4d4d4d">2050</text>
<line x1="831.0" x2="831.0" y1="1080.0" y2="1088.3" stroke="#333" stroke-width="2.8"/>
<text x="831.0" y="1114.2" font-size="26.6" text-anchor="middle" fill="#4d4d4d">2060</text>
<line x1="950.7" x2="950.7" y1="1080.0" y2="1088.3" stroke="#333" stroke-width="2.8"/>
<text x="950.7" y="1114.2" font-size="26.6" text-anchor="middle" fill="#4d4d4d">2070</text>
<line x1="1070.3" x2="1070.3" y1="1080.0" y2="1088.3" stroke="#333" stroke-width="2.8"/>
<text x="1070.3" y="1114.2" font-size="26.6" text-anchor="middle" fill="#4d4d4d">2080</text>
<line x1="1190.0" x2="1190.0" y1="1080.0" y2="1088.3" stroke="#333" stroke-width="2.8"/>
<text x="1190.0" y="1114.2" font-size="26.6" text-anchor="middle" fill="#4d4d4d">2090</text>
<rect x="1329.3" y="47.0" width="836.7" height="1033.0" fill="none" stroke="#333" stroke-width="2.5"/>
<line x1="1321.5" x2="1329.3" y1="933.0" y2="933.0" stroke="#333" stroke-width="2.8"/>
<text x="1314.8" y="942.4" font-size="26.6" text-anchor="end" fill="#4d4d4d">1</text>
<line x1="1321.5" x2="1329.3" y1="785.2" y2="785.2" stroke="#333" stroke-width="2.8"/>
<text x="1314.8" y="794.6" font-size="26.6" text-anchor="end" fill="#4d4d4d">2</text>
<line x1="1321.5" x2="1329.3" y1="637.4" y2="637.4" stroke="#333" stroke-width="2.8"/>
<text x="1314.8" y="646.8" font-size="26.6" text-anchor="end" fill="#4d4d4d">3</text>
<line x1="1321.5" x2="1329.3" y1="489.6" y2="489.6" stroke="#333" stroke-width="2.8"/>
<text x="1314.8" y="499.0" font-size="26.6" text-anchor="end" fill="#4d4d4d">4</text>
<line x1="1321.5" x2="1329.3" y1="341.8" y2="341.8" stroke="#333" stroke-width="2.8"/>
<text x="1314.8" y="351.2" font-size="26.6" text-anchor="end" fill="#4d4d4d">5</text>
<line x1="1321.5" x2="1329.3" y1="194.0" y2="194.0" stroke="#333" stroke-width="2.8"/>
<text x="1314.8" y="203.4" font-size="26.6" text-anchor="end" fill="#4d4d4d">6</text>
<line x1="1388.0" x2="1388.0" y1="1080.0" y2="1088.3" stroke="#333" stroke-width="2.8"/>
<text x="1388.0" y="1114.2" font-size="26.6" text-anchor="middle" fill="#4d4d4d">2030</text>
<line x1="1507.7" x2="1507.7" y1="1080.0" y2="1088.3" stroke="#333" stroke-width="2.8"/>
<text x="1507.7" y="1114.2" font-size="26.6" text-anchor="middle" fill="#4d4d4d">2040</text>
<line x1="1627.3" x2="1627.3" y1="1080.0" y2="1088.3" stroke="#333" stroke-width="2.8"/>
<text x="1627.3" y="1114.2" font-size="26.6" text-anchor="middle" fill="#4d4d4d">2050</text>
<line x1="1747.0" x2="1747.0" y1="1080.0" y2="1088.3" stroke="#333" stroke-width="2.8"/>
<text x="1747.0" y="1114.2" font-size="26.6" text-anchor="middle" fill="#4d4d4d">2060</text>
<line x1="1866.7" x2="1866.7" y1="1080.0" y2="1088.3" stroke="#333" stroke-width="2.8"/>
<text x="1866.7" y="1114.2" font-size="26.6" text-anchor="middle" fill="#4d4d4d">2070</text>
<line x1="1986.3" x2="1986.3" y1="1080.0" y2="1088.3" stroke="#333" stroke-width="2.8"/>
<text x="1986.3" y="1114.2" font-size="26.6" text-anchor="middle" fill="#4d4d4d">2080</text>
<line x1="2106.0" x2="2106.0" y1="1080.0" y2="1088.3" stroke="#333" stroke-width="2.8"/>
<text x="2106.0" y="1114.2" font-size="26.6" text-anchor="middle" fill="#4d4d4d">2090</text>
<line x1="419.1" x2="586.7" y1="1204.8" y2="1204.8" stroke="#4a4a4a" stroke-width="1.4"/>
<line x1="817.1" x2="1123.2" y1="1204.8" y2="1204.8" stroke="#4a4a4a" stroke-width="1.4"/>
<rect x="586.7" y="1191.7" width="230.4" height="26.3" fill="#a6cee3" stroke="#4a4a4a" stroke-width="1.4"/>
<line x1="674.9" x2="674.9" y1="1191.7" y2="1218.0" stroke="#333" stroke-width="2.4"/>
<rect x="413.0" y="1184.8" width="836.0" height="41.1" fill="none" stroke="#333" stroke-width="2.5"/>
<line x1="1395.9" x2="1601.3" y1="1204.8" y2="1204.8" stroke="#4a4a4a" stroke-width="1.4"/>
<line x1="1752.3" x2="1973.2" y1="1204.8" y2="1204.8" stroke="#4a4a4a" stroke-width="1.4"/>
<rect x="1601.3" y="1191.7" width="151.0" height="26.3" fill="#7fc97f" stroke="#4a4a4a" stroke-width="1.4"/>
<line x1="1669.9" x2="1669.9" y1="1191.7" y2="1218.0" stroke="#333" stroke-width="2.4"/>
<circle cx="1369.6" cy="1204.8" r="6.3" fill="#7fc97f" fill-opacity="0.72"/>
<circle cx="1980.3" cy="1204.8" r="6.3" fill="#7fc97f" fill-opacity="0.72"/>
<circle cx="1986.6" cy="1204.8" r="6.3" fill="#7fc97f" fill-opacity="0.72"/>
<circle cx="1991.6" cy="1204.8" r="6.3" fill="#7fc97f" fill-opacity="0.72"/>
<circle cx="2020.5" cy="1204.8" r="6.3" fill="#7fc97f" fill-opacity="0.72"/>
<circle cx="2038.4" cy="1204.8" r="6.3" fill="#7fc97f" fill-opacity="0.72"/>
<circle cx="2048.9" cy="1204.8" r="6.3" fill="#7fc97f" fill-opacity="0.72"/>
<circle cx="2105.0" cy="1204.8" r="6.3" fill="#7fc97f" fill-opacity="0.72"/>
<circle cx="2120.4" cy="1204.8" r="6.3" fill="#7fc97f" fill-opacity="0.72"/>
<circle cx="2131.3" cy="1204.8" r="6.3" fill="#7fc97f" fill-opacity="0.72"/>
<circle cx="2133.0" cy="1204.8" r="6.3" fill="#7fc97f" fill-opacity="0.72"/>
<circle cx="2156.0" cy="1204.8" r="6.3" fill="#7fc97f" fill-opacity="0.72"/>
<rect x="1329.3" y="1184.8" width="836.7" height="41.1" fill="none" stroke="#333" stroke-width="2.5"/>
<text x="-1.4" y="42.8" font-size="34.5" fill="#000">a</text>
<text x="162.7" y="42.8" font-size="34.5" fill="#000">b</text>
<text x="328.7" y="43.0" font-size="34.5" fill="#000">c</text>
<text x="1280.7" y="42.6" font-size="34.5" fill="#000">d</text>
<text x="328.0" y="1178.6" font-size="34.5" fill="#000">e</text>
<text x="1286.4" y="1178.3" font-size="34.5" fill="#000">f</text>
<text x="808.9" y="22.9" font-size="30.3" font-weight="bold" text-anchor="middle" fill="#000">1.5°C</text>
<text x="1734.0" y="23.1" font-size="30.3" font-weight="bold" text-anchor="middle" fill="#000">2°C</text>
<text transform="translate(41.6,563.8) rotate(-90)" font-size="30.7" text-anchor="middle" fill="#000">Maximum growth rate as share of the 2022 market</text>
<text transform="translate(205.3,563.8) rotate(-90)" font-size="30.7" text-anchor="middle" fill="#000">Max growth rate as share of the market at TMax</text>
<text transform="translate(368.8,563.8) rotate(-90)" font-size="30.7" text-anchor="middle" fill="#000">Max growth rate as share of the market at TMax</text>
<text x="831.1" y="1263.8" font-size="30.7" text-anchor="middle" fill="#000">TMax, year of maximum growth</text>
<text x="1747.3" y="1263.4" font-size="30.7" text-anchor="middle" fill="#000">TMax, year of maximum growth</text>
<text x="38.5" y="1383.5" font-size="30.7" fill="#000">Saturation level (Gt/yr)</text>
<circle cx="372.5" cy="1349.2" r="5.5" fill="#4d4d4d"/>
<circle cx="409.9" cy="1349.2" r="6.9" fill="#4d4d4d"/>
<circle cx="447.0" cy="1349.2" r="8.1" fill="#4d4d4d"/>
<circle cx="484.4" cy="1349.2" r="9.5" fill="#4d4d4d"/>
<line x1="353" x2="504" y1="1367.7" y2="1367.7" stroke="#000" stroke-width="1.8"/>
<line x1="390.7" x2="390.7" y1="1360.3" y2="1367.7" stroke="#000" stroke-width="1.8"/>
<text x="390.7" y="1401.0" font-size="26.6" text-anchor="middle" fill="#000">10</text>
<line x1="428.3" x2="428.3" y1="1360.3" y2="1367.7" stroke="#000" stroke-width="1.8"/>
<text x="428.3" y="1401.0" font-size="26.6" text-anchor="middle" fill="#000">20</text>
<line x1="466.0" x2="466.0" y1="1360.3" y2="1367.7" stroke="#000" stroke-width="1.8"/>
<text x="466.0" y="1401.0" font-size="26.6" text-anchor="middle" fill="#000">30</text>
<text x="946.5" y="1361.6" font-size="30.7" text-anchor="end" fill="#000">Density of IPCC pathways,</text>
<text x="939.3" y="1397.6" font-size="30.7" text-anchor="end" fill="#000">scaled to a maximum of 1</text>
<text x="1015.2" y="1358.0" font-size="26.6" fill="#000">(0.0, 0.1]</text>
<rect x="965.2" y="1371.0" width="31.5" height="31.2" fill="#efebf7"/>
<text x="1015.2" y="1395.9" font-size="26.6" fill="#000">(0.1, 0.2]</text>
<rect x="1137.6" y="1333.5" width="31.5" height="31.2" fill="#e6d6ee"/>
<text x="1187.6" y="1358.0" font-size="26.6" fill="#000">(0.2, 0.3]</text>
<rect x="1137.6" y="1371.0" width="31.5" height="31.2" fill="#e0bfe2"/>
<text x="1187.6" y="1395.9" font-size="26.6" fill="#000">(0.3, 0.4]</text>
<rect x="1309.8" y="1333.5" width="31.5" height="31.2" fill="#e4b3d2"/>
<text x="1359.8" y="1358.0" font-size="26.6" fill="#000">(0.4, 0.5]</text>
<rect x="1309.8" y="1371.0" width="31.5" height="31.2" fill="#efb0b9"/>
<text x="1359.8" y="1395.9" font-size="26.6" fill="#000">(0.5, 0.6]</text>
<rect x="1482.3" y="1333.5" width="31.5" height="31.2" fill="#f5ae9d"/>
<text x="1531.7" y="1358.0" font-size="26.6" fill="#000">(0.6, 0.7]</text>
<rect x="1482.3" y="1371.0" width="31.5" height="31.2" fill="#fbb778"/>
<text x="1531.7" y="1395.9" font-size="26.6" fill="#000">(0.7, 0.8]</text>
<rect x="1654.7" y="1333.5" width="31.5" height="31.2" fill="#fdd25a"/>
<text x="1704.7" y="1358.0" font-size="26.6" fill="#000">(0.8, 0.9]</text>
<rect x="1654.7" y="1371.0" width="31.5" height="31.2" fill="#f3f73d"/>
<text x="1704.7" y="1395.9" font-size="26.6" fill="#000">(0.9, 1.0]</text>
<text x="1854.0" y="1361.5" font-size="30.7" fill="#000">IPCC AR6</text>
<text x="1854.3" y="1398.0" font-size="30.7" fill="#000">Pathways</text>
<circle cx="2015.3" cy="1348.1" r="5.6" fill="#a6cee3"/>
<circle cx="2015.3" cy="1388.2" r="5.6" fill="#7fc97f"/>
<text x="2062.8" y="1356.6" font-size="26.6" fill="#000">1.5°C</text>
<text x="2062.0" y="1397.0" font-size="26.6" fill="#000">2°C</text>
</svg></body></html>
